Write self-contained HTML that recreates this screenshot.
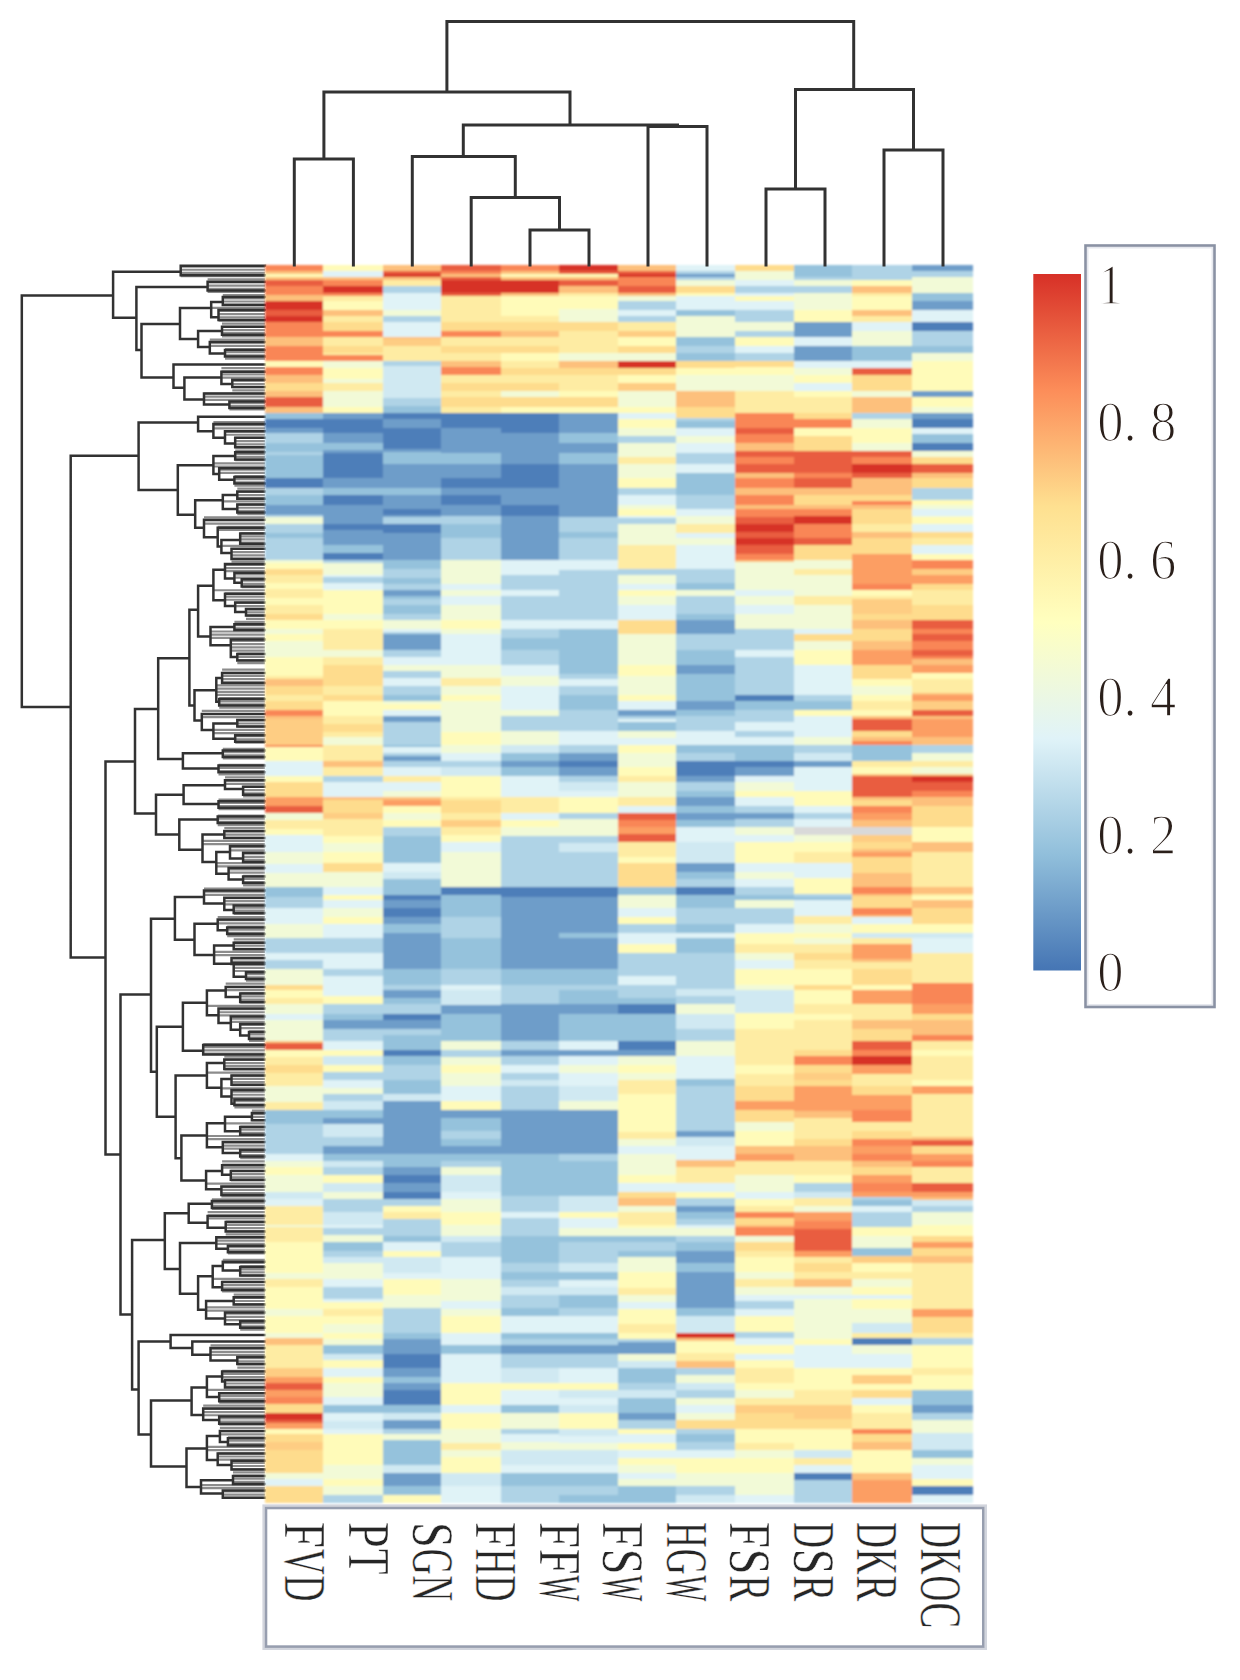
<!DOCTYPE html>
<html><head><meta charset="utf-8"><style>
html,body{margin:0;padding:0;background:#fff;}
svg{display:block;}
text{font-family:"Liberation Serif",serif;}
</style></head><body>
<svg width="1240" height="1680" viewBox="0 0 1240 1680">
<defs>
<linearGradient id="cb" x1="0" y1="0" x2="0" y2="1">
<stop offset="0" stop-color="#D73027"/>
<stop offset="0.1667" stop-color="#FC8D59"/>
<stop offset="0.3333" stop-color="#FEE090"/>
<stop offset="0.5" stop-color="#FFFFBF"/>
<stop offset="0.6667" stop-color="#E0F3F8"/>
<stop offset="0.8333" stop-color="#91BFDB"/>
<stop offset="1" stop-color="#4575B4"/>
</linearGradient>
<filter id="bl" x="-2%" y="-2%" width="104%" height="104%"><feGaussianBlur stdDeviation="0.45"/></filter>
<filter id="bh" x="-2%" y="-1%" width="104%" height="102%"><feGaussianBlur stdDeviation="0.9"/></filter>
</defs>
<rect width="1240" height="1680" fill="#fff"/>
<g filter="url(#bl)">
<path d="M180.7,266.59H265.0M180.7,269.76H265.0M180.7,272.93H265.0M180.7,276.11H265.0M207.6,279.28H265.0M207.6,282.45H265.0M207.6,285.62H265.0M207.6,288.80H265.0M207.6,291.97H265.0M222.8,295.14H265.0M222.8,298.32H265.0M222.8,301.49H265.0M222.8,304.66H265.0M211.2,307.84H265.0M218.5,311.01H265.0M218.5,314.18H265.0M218.5,317.36H265.0M218.5,320.53H265.0M222.0,323.70H265.0M222.0,326.88H265.0M222.0,330.05H265.0M222.0,333.22H265.0M222.0,336.39H265.0M209.8,339.57H265.0M209.8,342.74H265.0M209.8,345.91H265.0M225.0,349.09H265.0M225.0,352.26H265.0M225.0,355.43H265.0M225.0,358.61H265.0M221.4,368.12H265.0M221.4,371.30H265.0M221.4,374.47H265.0M221.4,377.64H265.0M232.3,380.82H265.0M232.3,383.99H265.0M232.3,387.16H265.0M232.3,390.34H265.0M204.0,393.51H265.0M204.0,396.68H265.0M204.0,399.86H265.0M229.4,403.03H265.0M229.4,406.20H265.0M229.4,409.38H265.0M213.4,422.07H265.0M213.4,425.24H265.0M213.4,428.41H265.0M225.0,431.59H265.0M225.0,434.76H265.0M235.2,437.93H265.0M235.2,441.11H265.0M235.2,444.28H265.0M235.2,447.45H265.0M235.2,450.62H265.0M235.2,453.80H265.0M235.2,456.97H265.0M235.2,460.14H265.0M213.4,463.32H265.0M213.4,466.49H265.0M219.2,469.66H265.0M219.2,472.84H265.0M234.4,476.01H265.0M234.4,479.18H265.0M234.4,482.36H265.0M234.4,485.53H265.0M237.3,488.70H265.0M237.3,491.88H265.0M237.3,495.05H265.0M237.3,498.22H265.0M222.8,501.39H265.0M237.3,504.57H265.0M237.3,507.74H265.0M237.3,510.91H265.0M237.3,514.09H265.0M204.0,517.26H265.0M204.0,520.43H265.0M204.0,523.61H265.0M217.7,526.78H265.0M217.7,529.95H265.0M240.2,533.12H265.0M240.2,536.30H265.0M240.2,539.47H265.0M240.2,542.64H265.0M221.4,545.82H265.0M231.5,548.99H265.0M231.5,552.16H265.0M231.5,555.34H265.0M231.5,558.51H265.0M231.5,561.68H265.0M225.0,564.86H265.0M225.0,568.03H265.0M225.0,571.20H265.0M234.4,574.38H265.0M234.4,577.55H265.0M241.7,580.72H265.0M241.7,583.89H265.0M241.7,587.07H265.0M213.4,590.24H265.0M225.0,593.41H265.0M225.0,596.59H265.0M225.0,599.76H265.0M235.2,602.93H265.0M235.2,606.11H265.0M246.0,609.28H265.0M246.0,612.45H265.0M246.0,615.62H265.0M246.0,618.80H265.0M234.4,621.97H265.0M234.4,625.14H265.0M234.4,628.32H265.0M210.5,631.49H265.0M210.5,634.66H265.0M210.5,637.84H265.0M230.8,641.01H265.0M230.8,644.18H265.0M230.8,647.36H265.0M230.8,650.53H265.0M237.3,653.70H265.0M237.3,656.88H265.0M237.3,660.05H265.0M237.3,663.22H265.0M222.1,669.57H265.0M222.1,672.74H265.0M222.1,675.91H265.0M222.1,679.09H265.0M222.1,682.26H265.0M216.3,685.43H265.0M216.3,688.61H265.0M216.3,691.78H265.0M216.3,694.95H265.0M219.2,698.12H265.0M219.2,701.30H265.0M219.2,704.47H265.0M219.2,707.64H265.0M201.8,710.82H265.0M201.8,713.99H265.0M201.8,717.16H265.0M237.3,720.34H265.0M237.3,723.51H265.0M237.3,726.68H265.0M213.4,729.86H265.0M213.4,733.03H265.0M235.2,736.20H265.0M235.2,739.38H265.0M235.2,742.55H265.0M222.8,748.89H265.0M222.8,752.07H265.0M222.8,755.24H265.0M222.8,758.41H265.0M218.5,764.76H265.0M218.5,767.93H265.0M218.5,771.11H265.0M218.5,774.28H265.0M225.0,777.45H265.0M225.0,780.62H265.0M225.0,783.80H265.0M243.1,786.97H265.0M243.1,790.14H265.0M243.1,793.32H265.0M243.1,796.49H265.0M218.5,799.66H265.0M218.5,802.84H265.0M218.5,806.01H265.0M218.5,809.18H265.0M217.7,815.53H265.0M217.7,818.70H265.0M217.7,821.88H265.0M217.7,825.05H265.0M224.3,828.22H265.0M224.3,831.39H265.0M224.3,834.57H265.0M224.3,837.74H265.0M202.5,840.91H265.0M202.5,844.09H265.0M230.0,847.26H265.0M230.0,850.43H265.0M243.1,853.61H265.0M243.1,856.78H265.0M243.1,859.95H265.0M216.3,863.12H265.0M216.3,866.30H265.0M228.6,869.47H265.0M228.6,872.64H265.0M243.1,875.82H265.0M243.1,878.99H265.0M243.1,882.16H265.0M243.1,885.34H265.0M204.0,888.51H265.0M204.0,891.68H265.0M204.0,894.86H265.0M224.3,898.03H265.0M224.3,901.20H265.0M224.3,904.38H265.0M233.7,907.55H265.0M233.7,910.72H265.0M233.7,913.89H265.0M217.7,917.07H265.0M217.7,920.24H265.0M217.7,923.41H265.0M227.2,926.59H265.0M227.2,929.76H265.0M227.2,932.93H265.0M227.2,936.11H265.0M233.7,939.28H265.0M233.7,942.45H265.0M233.7,945.62H265.0M233.7,948.80H265.0M214.1,951.97H265.0M214.1,955.14H265.0M231.5,958.32H265.0M231.5,961.49H265.0M233.7,964.66H265.0M233.7,967.84H265.0M233.7,971.01H265.0M246.0,974.18H265.0M246.0,977.36H265.0M246.0,980.53H265.0M225.7,983.70H265.0M225.7,986.88H265.0M225.7,990.05H265.0M240.2,993.22H265.0M240.2,996.39H265.0M240.2,999.57H265.0M240.2,1002.74H265.0M206.9,1005.91H265.0M218.5,1009.09H265.0M218.5,1012.26H265.0M218.5,1015.43H265.0M230.8,1018.61H265.0M230.8,1021.78H265.0M240.2,1024.95H265.0M240.2,1028.12H265.0M249.0,1031.30H265.0M249.0,1034.47H265.0M249.0,1037.64H265.0M249.0,1040.82H265.0M203.2,1043.99H265.0M203.2,1047.16H265.0M203.2,1050.34H265.0M203.2,1053.51H265.0M224.3,1056.68H265.0M224.3,1059.86H265.0M224.3,1063.03H265.0M224.3,1066.20H265.0M224.3,1069.38H265.0M206.9,1072.55H265.0M231.5,1075.72H265.0M231.5,1078.89H265.0M231.5,1082.07H265.0M231.5,1085.24H265.0M221.4,1088.41H265.0M231.5,1091.59H265.0M231.5,1094.76H265.0M231.5,1097.93H265.0M234.4,1101.11H265.0M234.4,1104.28H265.0M234.4,1107.45H265.0M251.9,1110.62H265.0M251.9,1113.80H265.0M251.9,1116.97H265.0M251.9,1120.14H265.0M225.0,1123.32H265.0M240.2,1126.49H265.0M240.2,1129.66H265.0M240.2,1132.84H265.0M206.9,1136.01H265.0M206.9,1139.18H265.0M222.8,1142.36H265.0M222.8,1145.53H265.0M222.8,1148.70H265.0M240.2,1151.88H265.0M240.2,1155.05H265.0M240.2,1158.22H265.0M222.1,1161.39H265.0M222.1,1164.57H265.0M222.1,1167.74H265.0M230.8,1170.91H265.0M230.8,1174.09H265.0M230.8,1177.26H265.0M230.8,1180.43H265.0M206.1,1183.61H265.0M221.4,1186.78H265.0M221.4,1189.95H265.0M221.4,1193.12H265.0M221.4,1196.30H265.0M211.9,1199.47H265.0M211.9,1202.64H265.0M211.9,1205.82H265.0M211.9,1208.99H265.0M207.6,1212.16H265.0M207.6,1215.34H265.0M207.6,1218.51H265.0M225.7,1221.68H265.0M225.7,1224.86H265.0M225.7,1228.03H265.0M225.7,1231.20H265.0M225.7,1234.38H265.0M216.3,1237.55H265.0M216.3,1240.72H265.0M216.3,1243.89H265.0M227.9,1247.07H265.0M227.9,1250.24H265.0M227.9,1253.41H265.0M222.8,1259.76H265.0M222.8,1262.93H265.0M240.2,1266.11H265.0M240.2,1269.28H265.0M240.2,1272.45H265.0M240.2,1275.62H265.0M212.7,1278.80H265.0M222.1,1281.97H265.0M222.1,1285.14H265.0M222.1,1288.32H265.0M222.1,1291.49H265.0M233.7,1294.66H265.0M233.7,1297.84H265.0M233.7,1301.01H265.0M233.7,1304.18H265.0M206.1,1307.36H265.0M206.1,1310.53H265.0M225.0,1313.70H265.0M225.0,1316.88H265.0M225.0,1320.05H265.0M240.2,1323.22H265.0M240.2,1326.39H265.0M240.2,1329.57H265.0M210.5,1345.43H265.0M210.5,1348.61H265.0M210.5,1351.78H265.0M210.5,1354.95H265.0M237.3,1358.12H265.0M237.3,1361.30H265.0M237.3,1364.47H265.0M237.3,1367.64H265.0M222.1,1370.82H265.0M222.1,1373.99H265.0M222.1,1377.16H265.0M225.0,1380.34H265.0M225.0,1383.51H265.0M225.0,1386.68H265.0M206.9,1389.86H265.0M219.2,1393.03H265.0M219.2,1396.20H265.0M219.2,1399.38H265.0M219.2,1402.55H265.0M203.2,1405.72H265.0M203.2,1408.89H265.0M203.2,1412.07H265.0M203.2,1415.24H265.0M219.2,1418.41H265.0M219.2,1421.59H265.0M219.2,1424.76H265.0M219.9,1427.93H265.0M219.9,1431.11H265.0M219.9,1434.28H265.0M227.9,1437.45H265.0M227.9,1440.62H265.0M227.9,1443.80H265.0M206.9,1446.97H265.0M206.9,1450.14H265.0M217.7,1453.32H265.0M217.7,1456.49H265.0M217.7,1459.66H265.0M231.5,1462.84H265.0M231.5,1466.01H265.0M231.5,1469.18H265.0M233.0,1472.36H265.0M233.0,1475.53H265.0M233.0,1478.70H265.0M233.0,1481.88H265.0M201.0,1485.05H265.0M201.0,1488.22H265.0M222.8,1491.39H265.0M222.8,1494.57H265.0M222.8,1497.74H265.0" fill="none" stroke="#8c8c8c" stroke-width="2.2"/>
<path d="M21.8,295.4H113.1M21.8,707.0H70.7M113.1,271.8H180.7M113.1,317.8H136.4M70.7,455.8H138.6M70.7,957.4H105.5M180.7,265.8H265.0M180.7,275.2H265.0M136.4,286.9H207.6M136.4,350.0H141.5M207.6,281.8H265.0M207.6,290.5H265.0M141.5,323.9H180.0M141.5,377.6H173.5M180.0,307.9H211.2M180.0,339.1H198.1M211.2,302.0H222.8M211.2,317.3H218.5M222.8,297.0H265.0M222.8,305.0H265.0M218.5,310.0H265.0M218.5,320.0H265.0M198.1,331.0H222.0M198.1,347.0H209.8M222.0,326.8H265.0M222.0,334.8H265.0M209.8,342.0H265.0M209.8,353.6H225.0M225.0,350.0H265.0M225.0,356.5H265.0M173.5,364.5H265.0M173.5,387.7H184.4M184.4,377.6H221.4M184.4,399.4H204.0M221.4,371.8H265.0M221.4,384.1H232.3M232.3,379.8H265.0M232.3,387.0H265.0M204.0,393.5H265.0M204.0,404.4H229.4M229.4,401.5H265.0M229.4,408.0H265.0M138.6,422.5H198.1M138.6,490.0H177.8M198.1,416.7H265.0M198.1,431.2H213.4M213.4,424.0H265.0M213.4,437.7H225.0M225.0,431.2H265.0M225.0,443.5H235.2M235.2,437.7H265.0M235.2,447.2H265.0M177.8,465.3H213.4M177.8,514.7H195.2M213.4,455.9H235.2M213.4,474.0H219.2M235.2,452.3H265.0M235.2,459.5H265.0M219.2,468.2H265.0M219.2,479.8H234.4M234.4,477.0H265.0M234.4,483.5H265.0M195.2,500.2H222.8M195.2,527.7H204.0M222.8,495.0H237.3M222.8,508.9H237.3M237.3,491.5H265.0M237.3,498.7H265.0M237.3,504.5H265.0M237.3,512.5H265.0M204.0,519.8H265.0M204.0,537.2H217.7M217.7,527.7H265.0M217.7,546.6H221.4M240.2,533.5H265.0M240.2,543.7H265.0M221.4,540.0H240.2M221.4,553.0H231.5M231.5,548.7H265.0M231.5,558.9H265.0M158.2,658.3H189.4M158.2,759.1H182.9M189.4,609.7H198.1M189.4,705.4H194.5M198.1,585.7H213.4M198.1,636.5H210.5M213.4,569.8H225.0M213.4,600.2H225.0M225.0,564.0H265.0M225.0,578.5H234.4M234.4,572.7H265.0M234.4,582.8H241.7M241.7,579.2H265.0M241.7,586.5H265.0M225.0,593.7H265.0M225.0,606.0H235.2M235.2,602.4H265.0M235.2,611.9H246.0M246.0,609.0H265.0M246.0,615.5H265.0M210.5,627.1H234.4M210.5,645.2H230.8M234.4,624.2H265.0M234.4,630.0H265.0M230.8,639.4H265.0M230.8,656.9H237.3M237.3,654.0H265.0M237.3,660.5H265.0M135.0,709.0H158.2M135.0,813.5H156.0M105.5,761.6H135.0M105.5,1154.5H120.5M182.9,753.3H222.8M182.9,768.5H218.5M222.8,750.4H265.0M222.8,757.0H265.0M218.5,765.6H265.0M218.5,772.2H265.0M194.5,690.2H216.3M194.5,720.6H201.8M216.3,678.0H222.1M216.3,701.8H219.2M222.1,673.0H265.0M222.1,683.0H265.0M219.2,698.9H265.0M219.2,705.4H265.0M201.8,714.0H265.0M201.8,730.0H213.4M213.4,723.5H237.3M213.4,738.8H235.2M237.3,720.0H265.0M237.3,726.5H265.0M235.2,735.2H265.0M235.2,741.7H265.0M156.0,794.7H183.6M156.0,834.5H179.3M183.6,785.2H225.0M183.6,804.1H218.5M225.0,780.2H265.0M225.0,788.9H243.1M243.1,786.7H265.0M243.1,794.7H265.0M218.5,801.2H265.0M218.5,807.7H265.0M179.3,819.4H217.7M179.3,849.8H202.5M217.7,816.5H265.0M217.7,823.0H265.0M224.3,830.9H265.0M224.3,838.1H265.0M202.5,834.5H224.3M202.5,862.1H216.3M216.3,852.0H230.0M216.3,873.7H228.6M230.0,846.1H265.0M230.0,858.5H243.1M243.1,852.7H265.0M243.1,862.1H265.0M228.6,867.9H265.0M228.6,879.5H243.1M243.1,876.6H265.0M243.1,883.1H265.0M151.0,918.7H174.9M151.0,1071.8H156.8M174.9,896.9H204.0M174.9,939.8H194.5M204.0,890.4H265.0M204.0,903.5H224.3M224.3,897.7H265.0M224.3,910.0H233.7M233.7,905.6H265.0M233.7,912.9H265.0M194.5,923.8H217.7M194.5,955.0H214.1M217.7,919.4H265.0M217.7,930.3H227.2M227.2,927.4H265.0M227.2,934.0H265.0M214.1,945.6H233.7M214.1,963.7H231.5M233.7,942.7H265.0M233.7,949.2H265.0M231.5,957.9H265.0M231.5,964.0H265.0M233.7,963.0H265.0M233.7,976.7H246.0M246.0,972.3H265.0M246.0,978.9H265.0M120.5,994.4H151.0M120.5,1314.6H132.1M156.8,1026.8H182.9M156.8,1116.8H175.6M182.9,1002.8H206.9M182.9,1050.7H203.2M206.9,990.5H225.7M206.9,1015.2H218.5M225.7,986.9H265.0M225.7,997.0H240.2M240.2,993.4H265.0M240.2,1002.1H265.0M218.5,1008.6H265.0M218.5,1023.1H230.8M230.8,1016.6H265.0M230.8,1029.7H240.2M240.2,1023.9H265.0M240.2,1035.5H249.0M249.0,1031.9H265.0M249.0,1039.1H265.0M203.2,1044.9H265.0M203.2,1054.4H265.0M175.6,1075.4H206.9M175.6,1158.2H181.4M206.9,1063.0H224.3M206.9,1087.7H221.4M224.3,1059.4H265.0M224.3,1068.9H265.0M221.4,1079.0H231.5M221.4,1096.5H231.5M231.5,1075.4H265.0M231.5,1084.8H265.0M231.5,1089.9H265.0M231.5,1103.7H234.4M234.4,1099.4H265.0M234.4,1105.2H265.0M181.4,1135.6H206.9M181.4,1180.6H206.1M206.9,1123.2H225.0M206.9,1147.2H222.8M225.0,1116.7H251.9M225.0,1131.2H240.2M251.9,1113.0H265.0M251.9,1120.3H265.0M240.2,1126.9H265.0M240.2,1134.8H265.0M222.8,1142.1H265.0M222.8,1153.0H240.2M240.2,1150.1H265.0M240.2,1156.6H265.0M206.1,1171.1H222.1M206.1,1189.3H221.4M222.1,1165.3H265.0M222.1,1174.8H230.8M230.8,1171.1H265.0M230.8,1179.8H265.0M221.4,1186.4H265.0M221.4,1195.1H265.0M164.8,1213.2H188.7M164.8,1269.0H180.0M132.1,1240.0H164.8M132.1,1389.6H138.6M188.7,1203.8H211.9M188.7,1222.7H207.6M211.9,1200.9H265.0M211.9,1208.1H265.0M207.6,1216.1H265.0M207.6,1227.7H225.7M225.7,1221.9H265.0M225.7,1231.4H265.0M180.0,1243.0H216.3M180.0,1293.7H198.1M216.3,1237.2H265.0M216.3,1248.8H227.9M227.9,1245.8H265.0M227.9,1252.3H265.0M198.1,1276.3H212.7M198.1,1309.7H206.1M212.7,1266.1H222.8M212.7,1287.2H222.1M222.8,1261.8H265.0M222.8,1270.5H240.2M240.2,1266.9H265.0M240.2,1275.6H265.0M222.1,1282.0H265.0M222.1,1290.0H265.0M206.1,1301.0H233.7M206.1,1318.4H225.0M233.7,1297.3H265.0M233.7,1304.6H265.0M225.0,1312.6H265.0M225.0,1324.2H240.2M240.2,1321.3H265.0M240.2,1327.8H265.0M138.6,1341.6H170.6M138.6,1434.4H151.0M170.6,1335.1H265.0M170.6,1348.1H192.3M192.3,1341.6H265.0M192.3,1354.7H210.5M210.5,1348.1H265.0M210.5,1360.5H237.3M237.3,1356.9H265.0M237.3,1364.1H265.0M151.0,1400.5H191.6M151.0,1466.5H186.5M191.6,1387.4H206.9M191.6,1415.0H203.2M206.9,1376.4H222.1M206.9,1396.9H219.2M222.1,1371.5H265.0M222.1,1381.6H225.0M225.0,1380.0H265.0M225.0,1387.4H265.0M219.2,1393.2H265.0M219.2,1401.2H265.0M203.2,1408.5H265.0M203.2,1420.1H219.2M219.2,1416.5H265.0M219.2,1423.7H265.0M186.5,1448.4H206.9M186.5,1486.9H201.0M206.9,1436.0H219.9M206.9,1460.0H217.7M219.9,1431.0H265.0M219.9,1441.9H227.9M227.9,1438.2H265.0M227.9,1445.5H265.0M217.7,1453.5H265.0M217.7,1465.1H231.5M231.5,1460.7H265.0M231.5,1469.4H265.0M201.0,1480.3H233.0M201.0,1493.4H222.8M233.0,1476.0H265.0M233.0,1484.0H265.0M222.8,1490.5H265.0M222.8,1497.7H265.0M21.8,295.4V707.0M113.1,271.8V317.8M70.7,455.8V957.4M180.7,265.8V275.2M136.4,286.9V350.0M207.6,281.8V290.5M141.5,323.9V377.6M180.0,307.9V339.1M211.2,302.0V317.3M222.8,297.0V305.0M218.5,310.0V320.0M198.1,331.0V347.0M222.0,326.8V334.8M209.8,342.0V353.6M225.0,350.0V356.5M173.5,364.5V387.7M184.4,377.6V399.4M221.4,371.8V384.1M232.3,379.8V387.0M204.0,393.5V404.4M229.4,401.5V408.0M138.6,422.5V490.0M198.1,416.7V431.2M213.4,424.0V437.7M225.0,431.2V443.5M235.2,437.7V447.2M177.8,465.3V514.7M213.4,455.9V474.0M235.2,452.3V459.5M219.2,468.2V479.8M234.4,477.0V483.5M195.2,500.2V527.7M222.8,495.0V508.9M237.3,491.5V498.7M237.3,504.5V512.5M204.0,519.8V537.2M217.7,527.7V546.6M240.2,533.5V543.7M221.4,540.0V553.0M231.5,548.7V558.9M158.2,658.3V759.1M189.4,609.7V705.4M198.1,585.7V636.5M213.4,569.8V600.2M225.0,564.0V578.5M234.4,572.7V582.8M241.7,579.2V586.5M225.0,593.7V606.0M235.2,602.4V611.9M246.0,609.0V615.5M210.5,627.1V645.2M234.4,624.2V630.0M230.8,639.4V656.9M237.3,654.0V660.5M135.0,709.0V813.5M105.5,761.6V1154.5M182.9,753.3V768.5M222.8,750.4V757.0M218.5,765.6V772.2M194.5,690.2V720.6M216.3,678.0V701.8M222.1,673.0V683.0M219.2,698.9V705.4M201.8,714.0V730.0M213.4,723.5V738.8M237.3,720.0V726.5M235.2,735.2V741.7M156.0,794.7V834.5M183.6,785.2V804.1M225.0,780.2V788.9M243.1,786.7V794.7M218.5,801.2V807.7M179.3,819.4V849.8M217.7,816.5V823.0M224.3,830.9V838.1M202.5,834.5V862.1M216.3,852.0V873.7M230.0,846.1V858.5M243.1,852.7V862.1M228.6,867.9V879.5M243.1,876.6V883.1M151.0,918.7V1071.8M174.9,896.9V939.8M204.0,890.4V903.5M224.3,897.7V910.0M233.7,905.6V912.9M194.5,923.8V955.0M217.7,919.4V930.3M227.2,927.4V934.0M214.1,945.6V963.7M233.7,942.7V949.2M231.5,957.9V964.0M233.7,963.0V976.7M246.0,972.3V978.9M120.5,994.4V1314.6M156.8,1026.8V1116.8M182.9,1002.8V1050.7M206.9,990.5V1015.2M225.7,986.9V997.0M240.2,993.4V1002.1M218.5,1008.6V1023.1M230.8,1016.6V1029.7M240.2,1023.9V1035.5M249.0,1031.9V1039.1M203.2,1044.9V1054.4M175.6,1075.4V1158.2M206.9,1063.0V1087.7M224.3,1059.4V1068.9M221.4,1079.0V1096.5M231.5,1075.4V1084.8M231.5,1089.9V1103.7M234.4,1099.4V1105.2M181.4,1135.6V1180.6M206.9,1123.2V1147.2M225.0,1116.7V1131.2M251.9,1113.0V1120.3M240.2,1126.9V1134.8M222.8,1142.1V1153.0M240.2,1150.1V1156.6M206.1,1171.1V1189.3M222.1,1165.3V1174.8M230.8,1171.1V1179.8M221.4,1186.4V1195.1M164.8,1213.2V1269.0M132.1,1240.0V1389.6M188.7,1203.8V1222.7M211.9,1200.9V1208.1M207.6,1216.1V1227.7M225.7,1221.9V1231.4M180.0,1243.0V1293.7M216.3,1237.2V1248.8M227.9,1245.8V1252.3M198.1,1276.3V1309.7M212.7,1266.1V1287.2M222.8,1261.8V1270.5M240.2,1266.9V1275.6M222.1,1282.0V1290.0M206.1,1301.0V1318.4M233.7,1297.3V1304.6M225.0,1312.6V1324.2M240.2,1321.3V1327.8M138.6,1341.6V1434.4M170.6,1335.1V1348.1M192.3,1341.6V1354.7M210.5,1348.1V1360.5M237.3,1356.9V1364.1M151.0,1400.5V1466.5M191.6,1387.4V1415.0M206.9,1376.4V1396.9M222.1,1371.5V1381.6M225.0,1380.0V1387.4M219.2,1393.2V1401.2M203.2,1408.5V1420.1M219.2,1416.5V1423.7M186.5,1448.4V1486.9M206.9,1436.0V1460.0M219.9,1431.0V1441.9M227.9,1438.2V1445.5M217.7,1453.5V1465.1M231.5,1460.7V1469.4M201.0,1480.3V1493.4M233.0,1476.0V1484.0M222.8,1490.5V1497.7" fill="none" stroke="#333333" stroke-width="2.5" stroke-linecap="square"/>
</g>
<g filter="url(#bh)"><g shape-rendering="crispEdges">
<rect x="265.2" y="265.0" width="58.4" height="6.0" fill="#f98656"/>
<rect x="265.2" y="270.7" width="58.4" height="3.2" fill="#fdc07b"/>
<rect x="265.2" y="273.6" width="58.4" height="3.5" fill="#fffbb9"/>
<rect x="265.2" y="276.8" width="58.4" height="3.3" fill="#fdc07b"/>
<rect x="265.2" y="279.8" width="58.4" height="6.0" fill="#e95d3f"/>
<rect x="265.2" y="285.6" width="58.4" height="9.2" fill="#f98656"/>
<rect x="265.2" y="294.5" width="58.4" height="7.0" fill="#fdc07b"/>
<rect x="265.2" y="301.2" width="58.4" height="8.9" fill="#d73027"/>
<rect x="265.2" y="309.7" width="58.4" height="7.0" fill="#e95d3f"/>
<rect x="265.2" y="316.4" width="58.4" height="6.0" fill="#d73027"/>
<rect x="265.2" y="322.1" width="58.4" height="15.5" fill="#f98656"/>
<rect x="265.2" y="337.3" width="58.4" height="8.9" fill="#fdc07b"/>
<rect x="265.2" y="345.9" width="58.4" height="15.5" fill="#f98656"/>
<rect x="265.2" y="361.1" width="58.4" height="6.0" fill="#fffbb9"/>
<rect x="265.2" y="366.8" width="58.4" height="8.9" fill="#f98656"/>
<rect x="265.2" y="375.4" width="58.4" height="7.9" fill="#fdc07b"/>
<rect x="265.2" y="383.0" width="58.4" height="7.9" fill="#fedc8d"/>
<rect x="265.2" y="390.6" width="58.4" height="7.0" fill="#fdc07b"/>
<rect x="265.2" y="397.3" width="58.4" height="9.8" fill="#e95d3f"/>
<rect x="265.2" y="406.8" width="58.4" height="6.0" fill="#fdc07b"/>
<rect x="265.2" y="412.5" width="58.4" height="7.0" fill="#95c2dc"/>
<rect x="265.2" y="419.2" width="58.4" height="8.9" fill="#4e7eb9"/>
<rect x="265.2" y="427.7" width="58.4" height="6.0" fill="#6e9dc9"/>
<rect x="265.2" y="433.4" width="58.4" height="9.8" fill="#afd3e6"/>
<rect x="265.2" y="443.0" width="58.4" height="8.9" fill="#95c2dc"/>
<rect x="265.2" y="451.5" width="58.4" height="4.1" fill="#afd3e6"/>
<rect x="265.2" y="455.3" width="58.4" height="23.1" fill="#95c2dc"/>
<rect x="265.2" y="478.2" width="58.4" height="9.8" fill="#4e7eb9"/>
<rect x="265.2" y="487.7" width="58.4" height="7.9" fill="#afd3e6"/>
<rect x="265.2" y="495.3" width="58.4" height="10.0" fill="#95c2dc"/>
<rect x="323.3" y="265.0" width="60.4" height="6.0" fill="#fffbb9"/>
<rect x="323.3" y="270.7" width="60.4" height="7.0" fill="#e0f3f7"/>
<rect x="323.3" y="277.4" width="60.4" height="3.2" fill="#fdc07b"/>
<rect x="323.3" y="280.2" width="60.4" height="5.6" fill="#f98656"/>
<rect x="323.3" y="285.6" width="60.4" height="7.3" fill="#d73027"/>
<rect x="323.3" y="292.6" width="60.4" height="3.2" fill="#f98656"/>
<rect x="323.3" y="295.5" width="60.4" height="6.0" fill="#feeca3"/>
<rect x="323.3" y="301.2" width="60.4" height="8.9" fill="#fffbb9"/>
<rect x="323.3" y="309.7" width="60.4" height="7.0" fill="#fdc07b"/>
<rect x="323.3" y="316.4" width="60.4" height="6.0" fill="#feeca3"/>
<rect x="323.3" y="322.1" width="60.4" height="8.9" fill="#fedc8d"/>
<rect x="323.3" y="330.7" width="60.4" height="7.0" fill="#f98656"/>
<rect x="323.3" y="337.3" width="60.4" height="8.9" fill="#feeca3"/>
<rect x="323.3" y="345.9" width="60.4" height="7.0" fill="#fedc8d"/>
<rect x="323.3" y="352.5" width="60.4" height="3.2" fill="#feeca3"/>
<rect x="323.3" y="355.4" width="60.4" height="6.0" fill="#f98656"/>
<rect x="323.3" y="361.1" width="60.4" height="7.0" fill="#f2fad7"/>
<rect x="323.3" y="367.8" width="60.4" height="11.7" fill="#fffbb9"/>
<rect x="323.3" y="379.2" width="60.4" height="4.1" fill="#f2fad7"/>
<rect x="323.3" y="383.0" width="60.4" height="7.9" fill="#feeca3"/>
<rect x="323.3" y="390.6" width="60.4" height="16.5" fill="#f2fad7"/>
<rect x="323.3" y="406.8" width="60.4" height="6.0" fill="#fffbb9"/>
<rect x="323.3" y="412.5" width="60.4" height="7.0" fill="#6e9dc9"/>
<rect x="323.3" y="419.2" width="60.4" height="14.6" fill="#4e7eb9"/>
<rect x="323.3" y="433.4" width="60.4" height="9.8" fill="#6e9dc9"/>
<rect x="323.3" y="443.0" width="60.4" height="7.0" fill="#95c2dc"/>
<rect x="323.3" y="449.6" width="60.4" height="3.2" fill="#6e9dc9"/>
<rect x="323.3" y="452.5" width="60.4" height="26.0" fill="#4e7eb9"/>
<rect x="323.3" y="478.2" width="60.4" height="9.8" fill="#6e9dc9"/>
<rect x="323.3" y="487.7" width="60.4" height="7.9" fill="#95c2dc"/>
<rect x="323.3" y="495.3" width="60.4" height="10.0" fill="#4e7eb9"/>
<rect x="383.4" y="265.0" width="57.5" height="6.0" fill="#fdc07b"/>
<rect x="383.4" y="270.7" width="57.5" height="3.2" fill="#e95d3f"/>
<rect x="383.4" y="273.6" width="57.5" height="3.5" fill="#d73027"/>
<rect x="383.4" y="276.8" width="57.5" height="3.3" fill="#fdc07b"/>
<rect x="383.4" y="279.8" width="57.5" height="6.4" fill="#feeca3"/>
<rect x="383.4" y="285.9" width="57.5" height="7.0" fill="#afd3e6"/>
<rect x="383.4" y="292.6" width="57.5" height="2.2" fill="#e0f3f7"/>
<rect x="383.4" y="294.5" width="57.5" height="15.5" fill="#e0f3f7"/>
<rect x="383.4" y="309.7" width="57.5" height="7.0" fill="#f2fad7"/>
<rect x="383.4" y="316.4" width="57.5" height="6.0" fill="#afd3e6"/>
<rect x="383.4" y="322.1" width="57.5" height="15.5" fill="#e0f3f7"/>
<rect x="383.4" y="337.3" width="57.5" height="2.2" fill="#fdc07b"/>
<rect x="383.4" y="339.2" width="57.5" height="7.0" fill="#fecd83"/>
<rect x="383.4" y="345.9" width="57.5" height="15.5" fill="#feeca3"/>
<rect x="383.4" y="361.1" width="57.5" height="5.1" fill="#afd3e6"/>
<rect x="383.4" y="365.9" width="57.5" height="32.7" fill="#d0e9f2"/>
<rect x="383.4" y="398.2" width="57.5" height="7.9" fill="#afd3e6"/>
<rect x="383.4" y="405.8" width="57.5" height="7.0" fill="#95c2dc"/>
<rect x="383.4" y="412.5" width="57.5" height="7.0" fill="#4e7eb9"/>
<rect x="383.4" y="419.2" width="57.5" height="8.9" fill="#6e9dc9"/>
<rect x="383.4" y="427.7" width="57.5" height="21.2" fill="#4e7eb9"/>
<rect x="383.4" y="448.7" width="57.5" height="3.2" fill="#6e9dc9"/>
<rect x="383.4" y="451.5" width="57.5" height="12.7" fill="#95c2dc"/>
<rect x="383.4" y="463.9" width="57.5" height="8.9" fill="#6e9dc9"/>
<rect x="383.4" y="472.5" width="57.5" height="15.5" fill="#6e9dc9"/>
<rect x="383.4" y="487.7" width="57.5" height="7.9" fill="#95c2dc"/>
<rect x="383.4" y="495.3" width="57.5" height="10.0" fill="#6e9dc9"/>
<rect x="440.6" y="265.0" width="60.7" height="6.0" fill="#e95d3f"/>
<rect x="440.6" y="270.7" width="60.7" height="3.2" fill="#f98656"/>
<rect x="440.6" y="273.6" width="60.7" height="3.5" fill="#fdc07b"/>
<rect x="440.6" y="276.8" width="60.7" height="3.7" fill="#e95d3f"/>
<rect x="440.6" y="280.2" width="60.7" height="12.7" fill="#d73027"/>
<rect x="440.6" y="292.6" width="60.7" height="3.2" fill="#e95d3f"/>
<rect x="440.6" y="295.5" width="60.7" height="26.9" fill="#feeca3"/>
<rect x="440.6" y="322.1" width="60.7" height="8.9" fill="#fedc8d"/>
<rect x="440.6" y="330.7" width="60.7" height="7.0" fill="#f98656"/>
<rect x="440.6" y="337.3" width="60.7" height="8.9" fill="#feeca3"/>
<rect x="440.6" y="345.9" width="60.7" height="7.0" fill="#fedc8d"/>
<rect x="440.6" y="352.5" width="60.7" height="8.9" fill="#feeca3"/>
<rect x="440.6" y="361.1" width="60.7" height="6.0" fill="#fdc07b"/>
<rect x="440.6" y="366.8" width="60.7" height="8.9" fill="#f98656"/>
<rect x="440.6" y="375.4" width="60.7" height="7.9" fill="#feeca3"/>
<rect x="440.6" y="383.0" width="60.7" height="7.9" fill="#fedc8d"/>
<rect x="440.6" y="390.6" width="60.7" height="7.0" fill="#feeca3"/>
<rect x="440.6" y="397.3" width="60.7" height="9.8" fill="#fedc8d"/>
<rect x="440.6" y="406.8" width="60.7" height="6.0" fill="#feeca3"/>
<rect x="440.6" y="412.5" width="60.7" height="15.5" fill="#4e7eb9"/>
<rect x="440.6" y="427.7" width="60.7" height="25.0" fill="#6e9dc9"/>
<rect x="440.6" y="452.5" width="60.7" height="11.7" fill="#95c2dc"/>
<rect x="440.6" y="463.9" width="60.7" height="14.6" fill="#6e9dc9"/>
<rect x="440.6" y="478.2" width="60.7" height="9.8" fill="#4e7eb9"/>
<rect x="440.6" y="487.7" width="60.7" height="7.9" fill="#6e9dc9"/>
<rect x="440.6" y="495.3" width="60.7" height="10.0" fill="#4e7eb9"/>
<rect x="501.0" y="265.0" width="58.4" height="6.0" fill="#f98656"/>
<rect x="501.0" y="270.7" width="58.4" height="3.2" fill="#fdc07b"/>
<rect x="501.0" y="273.6" width="58.4" height="3.5" fill="#fffbb9"/>
<rect x="501.0" y="276.8" width="58.4" height="3.7" fill="#fdc07b"/>
<rect x="501.0" y="280.2" width="58.4" height="12.7" fill="#d73027"/>
<rect x="501.0" y="292.6" width="58.4" height="3.2" fill="#fdc07b"/>
<rect x="501.0" y="295.5" width="58.4" height="21.2" fill="#fffbb9"/>
<rect x="501.0" y="316.4" width="58.4" height="6.0" fill="#feeca3"/>
<rect x="501.0" y="322.1" width="58.4" height="8.9" fill="#fedc8d"/>
<rect x="501.0" y="330.7" width="58.4" height="7.0" fill="#fdc07b"/>
<rect x="501.0" y="337.3" width="58.4" height="8.9" fill="#feeca3"/>
<rect x="501.0" y="345.9" width="58.4" height="7.0" fill="#fedc8d"/>
<rect x="501.0" y="352.5" width="58.4" height="8.9" fill="#fffbb9"/>
<rect x="501.0" y="361.1" width="58.4" height="7.0" fill="#feeca3"/>
<rect x="501.0" y="367.8" width="58.4" height="7.9" fill="#fedc8d"/>
<rect x="501.0" y="375.4" width="58.4" height="7.9" fill="#feeca3"/>
<rect x="501.0" y="383.0" width="58.4" height="7.9" fill="#fedc8d"/>
<rect x="501.0" y="390.6" width="58.4" height="7.0" fill="#f2fad7"/>
<rect x="501.0" y="397.3" width="58.4" height="9.8" fill="#fedc8d"/>
<rect x="501.0" y="406.8" width="58.4" height="6.0" fill="#fffbb9"/>
<rect x="501.0" y="412.5" width="58.4" height="21.2" fill="#4e7eb9"/>
<rect x="501.0" y="433.4" width="58.4" height="30.8" fill="#6e9dc9"/>
<rect x="501.0" y="463.9" width="58.4" height="24.1" fill="#4e7eb9"/>
<rect x="501.0" y="487.7" width="58.4" height="17.6" fill="#6e9dc9"/>
<rect x="559.1" y="265.0" width="58.8" height="6.0" fill="#d73027"/>
<rect x="559.1" y="270.7" width="58.8" height="3.2" fill="#e95d3f"/>
<rect x="559.1" y="273.6" width="58.8" height="3.5" fill="#fffbb9"/>
<rect x="559.1" y="276.8" width="58.8" height="3.7" fill="#fdc07b"/>
<rect x="559.1" y="280.2" width="58.8" height="6.0" fill="#e95d3f"/>
<rect x="559.1" y="285.9" width="58.8" height="7.0" fill="#fdc07b"/>
<rect x="559.1" y="292.6" width="58.8" height="3.2" fill="#feeca3"/>
<rect x="559.1" y="295.5" width="58.8" height="13.6" fill="#fffbb9"/>
<rect x="559.1" y="308.8" width="58.8" height="7.9" fill="#f2fad7"/>
<rect x="559.1" y="316.4" width="58.8" height="6.0" fill="#f2fad7"/>
<rect x="559.1" y="322.1" width="58.8" height="8.9" fill="#fedc8d"/>
<rect x="559.1" y="330.7" width="58.8" height="7.0" fill="#feeca3"/>
<rect x="559.1" y="337.3" width="58.8" height="15.5" fill="#feeca3"/>
<rect x="559.1" y="352.5" width="58.8" height="8.9" fill="#f2fad7"/>
<rect x="559.1" y="361.1" width="58.8" height="7.0" fill="#fdc07b"/>
<rect x="559.1" y="367.8" width="58.8" height="7.9" fill="#fedc8d"/>
<rect x="559.1" y="375.4" width="58.8" height="7.9" fill="#feeca3"/>
<rect x="559.1" y="383.0" width="58.8" height="7.9" fill="#feeca3"/>
<rect x="559.1" y="390.6" width="58.8" height="7.0" fill="#fffbb9"/>
<rect x="559.1" y="397.3" width="58.8" height="9.8" fill="#fedc8d"/>
<rect x="559.1" y="406.8" width="58.8" height="6.0" fill="#fffbb9"/>
<rect x="559.1" y="412.5" width="58.8" height="21.2" fill="#6e9dc9"/>
<rect x="559.1" y="433.4" width="58.8" height="9.8" fill="#95c2dc"/>
<rect x="559.1" y="443.0" width="58.8" height="9.8" fill="#6e9dc9"/>
<rect x="559.1" y="452.5" width="58.8" height="11.7" fill="#95c2dc"/>
<rect x="559.1" y="463.9" width="58.8" height="8.9" fill="#6e9dc9"/>
<rect x="559.1" y="472.5" width="58.8" height="15.5" fill="#6e9dc9"/>
<rect x="559.1" y="487.7" width="58.8" height="17.6" fill="#6e9dc9"/>
<rect x="617.6" y="265.0" width="58.9" height="6.0" fill="#fdc07b"/>
<rect x="617.6" y="270.7" width="58.9" height="3.2" fill="#e95d3f"/>
<rect x="617.6" y="273.6" width="58.9" height="3.5" fill="#d73027"/>
<rect x="617.6" y="276.8" width="58.9" height="9.4" fill="#f98656"/>
<rect x="617.6" y="285.9" width="58.9" height="7.0" fill="#e95d3f"/>
<rect x="617.6" y="292.6" width="58.9" height="3.2" fill="#fdc07b"/>
<rect x="617.6" y="295.5" width="58.9" height="6.0" fill="#f2fad7"/>
<rect x="617.6" y="301.2" width="58.9" height="8.9" fill="#afd3e6"/>
<rect x="617.6" y="309.7" width="58.9" height="7.0" fill="#e0f3f7"/>
<rect x="617.6" y="316.4" width="58.9" height="6.0" fill="#afd3e6"/>
<rect x="617.6" y="322.1" width="58.9" height="8.9" fill="#feeca3"/>
<rect x="617.6" y="330.7" width="58.9" height="7.0" fill="#fecd83"/>
<rect x="617.6" y="337.3" width="58.9" height="8.9" fill="#fffbb9"/>
<rect x="617.6" y="345.9" width="58.9" height="7.0" fill="#fedc8d"/>
<rect x="617.6" y="352.5" width="58.9" height="8.9" fill="#f2fad7"/>
<rect x="617.6" y="361.1" width="58.9" height="7.0" fill="#d73027"/>
<rect x="617.6" y="367.8" width="58.9" height="7.9" fill="#fedc8d"/>
<rect x="617.6" y="375.4" width="58.9" height="7.9" fill="#fffbb9"/>
<rect x="617.6" y="383.0" width="58.9" height="7.9" fill="#fecd83"/>
<rect x="617.6" y="390.6" width="58.9" height="16.5" fill="#f2fad7"/>
<rect x="617.6" y="406.8" width="58.9" height="6.0" fill="#fffbb9"/>
<rect x="617.6" y="412.5" width="58.9" height="7.0" fill="#e0f3f7"/>
<rect x="617.6" y="419.2" width="58.9" height="8.9" fill="#fffbb9"/>
<rect x="617.6" y="427.7" width="58.9" height="8.9" fill="#f2fad7"/>
<rect x="617.6" y="436.3" width="58.9" height="7.0" fill="#afd3e6"/>
<rect x="617.6" y="443.0" width="58.9" height="14.6" fill="#f2fad7"/>
<rect x="617.6" y="457.2" width="58.9" height="7.0" fill="#feeca3"/>
<rect x="617.6" y="463.9" width="58.9" height="14.6" fill="#f2fad7"/>
<rect x="617.6" y="478.2" width="58.9" height="9.8" fill="#fffbb9"/>
<rect x="617.6" y="487.7" width="58.9" height="7.9" fill="#afd3e6"/>
<rect x="617.6" y="495.3" width="58.9" height="10.0" fill="#e0f3f7"/>
<rect x="676.2" y="265.0" width="58.8" height="6.0" fill="#e0f3f7"/>
<rect x="676.2" y="270.7" width="58.8" height="3.2" fill="#afd3e6"/>
<rect x="676.2" y="273.6" width="58.8" height="3.5" fill="#6e9dc9"/>
<rect x="676.2" y="276.8" width="58.8" height="3.7" fill="#afd3e6"/>
<rect x="676.2" y="280.2" width="58.8" height="6.0" fill="#f2fad7"/>
<rect x="676.2" y="285.9" width="58.8" height="7.0" fill="#fedc8d"/>
<rect x="676.2" y="292.6" width="58.8" height="3.2" fill="#fffbb9"/>
<rect x="676.2" y="295.5" width="58.8" height="6.0" fill="#e0f3f7"/>
<rect x="676.2" y="301.2" width="58.8" height="8.9" fill="#e0f3f7"/>
<rect x="676.2" y="309.7" width="58.8" height="7.0" fill="#95c2dc"/>
<rect x="676.2" y="316.4" width="58.8" height="6.0" fill="#f2fad7"/>
<rect x="676.2" y="322.1" width="58.8" height="15.5" fill="#f2fad7"/>
<rect x="676.2" y="337.3" width="58.8" height="8.9" fill="#95c2dc"/>
<rect x="676.2" y="345.9" width="58.8" height="7.0" fill="#afd3e6"/>
<rect x="676.2" y="352.5" width="58.8" height="8.9" fill="#95c2dc"/>
<rect x="676.2" y="361.1" width="58.8" height="7.0" fill="#fedc8d"/>
<rect x="676.2" y="367.8" width="58.8" height="7.9" fill="#fffbb9"/>
<rect x="676.2" y="375.4" width="58.8" height="7.9" fill="#f2fad7"/>
<rect x="676.2" y="383.0" width="58.8" height="7.9" fill="#f2fad7"/>
<rect x="676.2" y="390.6" width="58.8" height="16.5" fill="#fdc07b"/>
<rect x="676.2" y="406.8" width="58.8" height="11.7" fill="#fedc8d"/>
<rect x="676.2" y="418.2" width="58.8" height="3.2" fill="#afd3e6"/>
<rect x="676.2" y="421.1" width="58.8" height="7.0" fill="#95c2dc"/>
<rect x="676.2" y="427.7" width="58.8" height="8.9" fill="#e0f3f7"/>
<rect x="676.2" y="436.3" width="58.8" height="7.0" fill="#f2fad7"/>
<rect x="676.2" y="443.0" width="58.8" height="9.8" fill="#e0f3f7"/>
<rect x="676.2" y="452.5" width="58.8" height="11.7" fill="#afd3e6"/>
<rect x="676.2" y="463.9" width="58.8" height="8.9" fill="#e0f3f7"/>
<rect x="676.2" y="472.5" width="58.8" height="15.5" fill="#95c2dc"/>
<rect x="676.2" y="487.7" width="58.8" height="7.9" fill="#95c2dc"/>
<rect x="676.2" y="495.3" width="58.8" height="10.0" fill="#afd3e6"/>
<rect x="734.7" y="265.0" width="59.1" height="6.0" fill="#fedc8d"/>
<rect x="734.7" y="270.7" width="59.1" height="9.8" fill="#f2fad7"/>
<rect x="734.7" y="280.2" width="59.1" height="6.0" fill="#e0f3f7"/>
<rect x="734.7" y="285.9" width="59.1" height="7.0" fill="#afd3e6"/>
<rect x="734.7" y="292.6" width="59.1" height="3.2" fill="#e0f3f7"/>
<rect x="734.7" y="295.5" width="59.1" height="6.0" fill="#fffbb9"/>
<rect x="734.7" y="301.2" width="59.1" height="8.9" fill="#e0f3f7"/>
<rect x="734.7" y="309.7" width="59.1" height="12.7" fill="#afd3e6"/>
<rect x="734.7" y="322.1" width="59.1" height="8.9" fill="#f2fad7"/>
<rect x="734.7" y="330.7" width="59.1" height="7.0" fill="#afd3e6"/>
<rect x="734.7" y="337.3" width="59.1" height="8.9" fill="#fffbb9"/>
<rect x="734.7" y="345.9" width="59.1" height="7.0" fill="#e0f3f7"/>
<rect x="734.7" y="352.5" width="59.1" height="8.9" fill="#afd3e6"/>
<rect x="734.7" y="361.1" width="59.1" height="6.0" fill="#fedc8d"/>
<rect x="734.7" y="366.8" width="59.1" height="8.9" fill="#fffbb9"/>
<rect x="734.7" y="375.4" width="59.1" height="7.9" fill="#f2fad7"/>
<rect x="734.7" y="383.0" width="59.1" height="7.9" fill="#f2fad7"/>
<rect x="734.7" y="390.6" width="59.1" height="22.2" fill="#feeca3"/>
<rect x="734.7" y="412.5" width="59.1" height="15.5" fill="#f98656"/>
<rect x="734.7" y="427.7" width="59.1" height="7.0" fill="#e95d3f"/>
<rect x="734.7" y="434.4" width="59.1" height="8.9" fill="#f98656"/>
<rect x="734.7" y="443.0" width="59.1" height="7.9" fill="#fdc07b"/>
<rect x="734.7" y="450.6" width="59.1" height="7.0" fill="#e95d3f"/>
<rect x="734.7" y="457.2" width="59.1" height="7.0" fill="#f98656"/>
<rect x="734.7" y="463.9" width="59.1" height="8.9" fill="#e95d3f"/>
<rect x="734.7" y="472.5" width="59.1" height="6.0" fill="#fdc07b"/>
<rect x="734.7" y="478.2" width="59.1" height="9.8" fill="#f98656"/>
<rect x="734.7" y="487.7" width="59.1" height="7.9" fill="#fdc07b"/>
<rect x="734.7" y="495.3" width="59.1" height="10.0" fill="#f98656"/>
<rect x="793.5" y="265.0" width="59.1" height="12.7" fill="#95c2dc"/>
<rect x="793.5" y="277.4" width="59.1" height="3.2" fill="#afd3e6"/>
<rect x="793.5" y="280.2" width="59.1" height="6.0" fill="#f2fad7"/>
<rect x="793.5" y="285.9" width="59.1" height="7.0" fill="#afd3e6"/>
<rect x="793.5" y="292.6" width="59.1" height="17.4" fill="#f2fad7"/>
<rect x="793.5" y="309.7" width="59.1" height="12.7" fill="#fffbb9"/>
<rect x="793.5" y="322.1" width="59.1" height="15.5" fill="#6e9dc9"/>
<rect x="793.5" y="337.3" width="59.1" height="8.9" fill="#e0f3f7"/>
<rect x="793.5" y="345.9" width="59.1" height="15.5" fill="#6e9dc9"/>
<rect x="793.5" y="361.1" width="59.1" height="7.0" fill="#e0f3f7"/>
<rect x="793.5" y="367.8" width="59.1" height="7.9" fill="#f2fad7"/>
<rect x="793.5" y="375.4" width="59.1" height="7.9" fill="#fffbb9"/>
<rect x="793.5" y="383.0" width="59.1" height="7.9" fill="#e0f3f7"/>
<rect x="793.5" y="390.6" width="59.1" height="7.0" fill="#fffbb9"/>
<rect x="793.5" y="397.3" width="59.1" height="15.5" fill="#feeca3"/>
<rect x="793.5" y="412.5" width="59.1" height="7.0" fill="#fedc8d"/>
<rect x="793.5" y="419.2" width="59.1" height="8.9" fill="#f98656"/>
<rect x="793.5" y="427.7" width="59.1" height="8.9" fill="#fffbb9"/>
<rect x="793.5" y="436.3" width="59.1" height="14.6" fill="#fedc8d"/>
<rect x="793.5" y="450.6" width="59.1" height="13.6" fill="#e95d3f"/>
<rect x="793.5" y="463.9" width="59.1" height="8.9" fill="#e95d3f"/>
<rect x="793.5" y="472.5" width="59.1" height="6.0" fill="#f98656"/>
<rect x="793.5" y="478.2" width="59.1" height="9.8" fill="#e95d3f"/>
<rect x="793.5" y="487.7" width="59.1" height="7.9" fill="#fdc07b"/>
<rect x="793.5" y="495.3" width="59.1" height="10.0" fill="#fedc8d"/>
<rect x="852.3" y="265.0" width="60.0" height="12.7" fill="#afd3e6"/>
<rect x="852.3" y="277.4" width="60.0" height="3.2" fill="#afd3e6"/>
<rect x="852.3" y="280.2" width="60.0" height="6.0" fill="#fffbb9"/>
<rect x="852.3" y="285.9" width="60.0" height="7.0" fill="#fdc07b"/>
<rect x="852.3" y="292.6" width="60.0" height="3.2" fill="#feeca3"/>
<rect x="852.3" y="295.5" width="60.0" height="14.6" fill="#fffbb9"/>
<rect x="852.3" y="309.7" width="60.0" height="7.0" fill="#fdc07b"/>
<rect x="852.3" y="316.4" width="60.0" height="6.0" fill="#feeca3"/>
<rect x="852.3" y="322.1" width="60.0" height="8.9" fill="#e0f3f7"/>
<rect x="852.3" y="330.7" width="60.0" height="15.5" fill="#f2fad7"/>
<rect x="852.3" y="345.9" width="60.0" height="15.5" fill="#95c2dc"/>
<rect x="852.3" y="361.1" width="60.0" height="7.0" fill="#e0f3f7"/>
<rect x="852.3" y="367.8" width="60.0" height="7.9" fill="#e95d3f"/>
<rect x="852.3" y="375.4" width="60.0" height="15.5" fill="#fedc8d"/>
<rect x="852.3" y="390.6" width="60.0" height="7.0" fill="#f2fad7"/>
<rect x="852.3" y="397.3" width="60.0" height="15.5" fill="#fdc07b"/>
<rect x="852.3" y="412.5" width="60.0" height="7.0" fill="#afd3e6"/>
<rect x="852.3" y="419.2" width="60.0" height="8.9" fill="#f2fad7"/>
<rect x="852.3" y="427.7" width="60.0" height="15.5" fill="#fffbb9"/>
<rect x="852.3" y="443.0" width="60.0" height="7.9" fill="#f2fad7"/>
<rect x="852.3" y="450.6" width="60.0" height="7.0" fill="#e95d3f"/>
<rect x="852.3" y="457.2" width="60.0" height="7.0" fill="#f98656"/>
<rect x="852.3" y="463.9" width="60.0" height="8.9" fill="#d73027"/>
<rect x="852.3" y="472.5" width="60.0" height="6.0" fill="#e95d3f"/>
<rect x="852.3" y="478.2" width="60.0" height="17.4" fill="#fdc07b"/>
<rect x="852.3" y="495.3" width="60.0" height="6.0" fill="#fedc8d"/>
<rect x="852.3" y="501.0" width="60.0" height="4.3" fill="#f98656"/>
<rect x="912.0" y="265.0" width="60.9" height="6.0" fill="#6e9dc9"/>
<rect x="912.0" y="270.7" width="60.9" height="7.0" fill="#afd3e6"/>
<rect x="912.0" y="277.4" width="60.9" height="3.2" fill="#f2fad7"/>
<rect x="912.0" y="280.2" width="60.9" height="12.7" fill="#f2fad7"/>
<rect x="912.0" y="292.6" width="60.9" height="8.9" fill="#95c2dc"/>
<rect x="912.0" y="301.2" width="60.9" height="8.9" fill="#6e9dc9"/>
<rect x="912.0" y="309.7" width="60.9" height="12.7" fill="#e0f3f7"/>
<rect x="912.0" y="322.1" width="60.9" height="8.9" fill="#4e7eb9"/>
<rect x="912.0" y="330.7" width="60.9" height="15.5" fill="#afd3e6"/>
<rect x="912.0" y="345.9" width="60.9" height="7.0" fill="#95c2dc"/>
<rect x="912.0" y="352.5" width="60.9" height="8.9" fill="#f2fad7"/>
<rect x="912.0" y="361.1" width="60.9" height="7.0" fill="#fffbb9"/>
<rect x="912.0" y="367.8" width="60.9" height="7.9" fill="#fffbb9"/>
<rect x="912.0" y="375.4" width="60.9" height="15.5" fill="#fffbb9"/>
<rect x="912.0" y="390.6" width="60.9" height="7.0" fill="#6e9dc9"/>
<rect x="912.0" y="397.3" width="60.9" height="9.8" fill="#fffbb9"/>
<rect x="912.0" y="406.8" width="60.9" height="6.0" fill="#f2fad7"/>
<rect x="912.0" y="412.5" width="60.9" height="7.0" fill="#6e9dc9"/>
<rect x="912.0" y="419.2" width="60.9" height="8.9" fill="#4e7eb9"/>
<rect x="912.0" y="427.7" width="60.9" height="7.0" fill="#e0f3f7"/>
<rect x="912.0" y="434.4" width="60.9" height="8.9" fill="#95c2dc"/>
<rect x="912.0" y="443.0" width="60.9" height="7.9" fill="#4e7eb9"/>
<rect x="912.0" y="450.6" width="60.9" height="7.0" fill="#f2fad7"/>
<rect x="912.0" y="457.2" width="60.9" height="7.0" fill="#fedc8d"/>
<rect x="912.0" y="463.9" width="60.9" height="8.9" fill="#e95d3f"/>
<rect x="912.0" y="472.5" width="60.9" height="6.0" fill="#fdc07b"/>
<rect x="912.0" y="478.2" width="60.9" height="9.8" fill="#fedc8d"/>
<rect x="912.0" y="487.7" width="60.9" height="12.7" fill="#afd3e6"/>
<rect x="912.0" y="500.0" width="60.9" height="5.2" fill="#fffbb9"/>
<rect x="265.2" y="505.0" width="58.4" height="4.1" fill="#6e9dc9"/>
<rect x="265.2" y="508.8" width="58.4" height="6.0" fill="#6e9dc9"/>
<rect x="265.2" y="514.5" width="58.4" height="3.2" fill="#afd3e6"/>
<rect x="265.2" y="517.4" width="58.4" height="7.0" fill="#f2fad7"/>
<rect x="265.2" y="524.0" width="58.4" height="8.9" fill="#afd3e6"/>
<rect x="265.2" y="532.6" width="58.4" height="6.0" fill="#95c2dc"/>
<rect x="265.2" y="538.3" width="58.4" height="7.0" fill="#afd3e6"/>
<rect x="265.2" y="545.0" width="58.4" height="7.9" fill="#afd3e6"/>
<rect x="265.2" y="552.6" width="58.4" height="7.9" fill="#afd3e6"/>
<rect x="265.2" y="560.2" width="58.4" height="3.2" fill="#f2fad7"/>
<rect x="265.2" y="563.0" width="58.4" height="6.0" fill="#fffbb9"/>
<rect x="265.2" y="568.8" width="58.4" height="6.0" fill="#fedc8d"/>
<rect x="265.2" y="574.5" width="58.4" height="8.9" fill="#feeca3"/>
<rect x="265.2" y="583.0" width="58.4" height="6.0" fill="#fffbb9"/>
<rect x="265.2" y="588.7" width="58.4" height="9.8" fill="#feeca3"/>
<rect x="265.2" y="598.3" width="58.4" height="7.0" fill="#fffbb9"/>
<rect x="265.2" y="604.9" width="58.4" height="8.9" fill="#feeca3"/>
<rect x="265.2" y="613.5" width="58.4" height="7.0" fill="#fedc8d"/>
<rect x="265.2" y="620.1" width="58.4" height="8.9" fill="#fffbb9"/>
<rect x="265.2" y="628.7" width="58.4" height="6.0" fill="#f2fad7"/>
<rect x="265.2" y="634.4" width="58.4" height="7.0" fill="#fffbb9"/>
<rect x="265.2" y="641.1" width="58.4" height="16.5" fill="#f2fad7"/>
<rect x="265.2" y="657.3" width="58.4" height="19.3" fill="#fffbb9"/>
<rect x="265.2" y="676.3" width="58.4" height="3.2" fill="#feeca3"/>
<rect x="265.2" y="679.1" width="58.4" height="7.0" fill="#fdc07b"/>
<rect x="265.2" y="685.8" width="58.4" height="9.8" fill="#fedc8d"/>
<rect x="265.2" y="695.3" width="58.4" height="6.0" fill="#feeca3"/>
<rect x="265.2" y="701.0" width="58.4" height="8.9" fill="#fedc8d"/>
<rect x="265.2" y="709.6" width="58.4" height="7.0" fill="#f98656"/>
<rect x="265.2" y="716.3" width="58.4" height="3.2" fill="#fdc07b"/>
<rect x="265.2" y="719.1" width="58.4" height="26.2" fill="#fecd83"/>
<rect x="323.3" y="505.0" width="60.4" height="19.3" fill="#6e9dc9"/>
<rect x="323.3" y="524.0" width="60.4" height="6.0" fill="#4e7eb9"/>
<rect x="323.3" y="529.7" width="60.4" height="3.2" fill="#6e9dc9"/>
<rect x="323.3" y="532.6" width="60.4" height="12.7" fill="#6e9dc9"/>
<rect x="323.3" y="545.0" width="60.4" height="7.9" fill="#95c2dc"/>
<rect x="323.3" y="552.6" width="60.4" height="7.9" fill="#4e7eb9"/>
<rect x="323.3" y="560.2" width="60.4" height="3.2" fill="#afd3e6"/>
<rect x="323.3" y="563.0" width="60.4" height="11.7" fill="#f2fad7"/>
<rect x="323.3" y="574.5" width="60.4" height="3.2" fill="#e0f3f7"/>
<rect x="323.3" y="577.3" width="60.4" height="6.0" fill="#afd3e6"/>
<rect x="323.3" y="583.0" width="60.4" height="7.0" fill="#e0f3f7"/>
<rect x="323.3" y="589.7" width="60.4" height="24.1" fill="#fffbb9"/>
<rect x="323.3" y="613.5" width="60.4" height="7.0" fill="#f2fad7"/>
<rect x="323.3" y="620.1" width="60.4" height="8.9" fill="#fffbb9"/>
<rect x="323.3" y="628.7" width="60.4" height="6.0" fill="#feeca3"/>
<rect x="323.3" y="634.4" width="60.4" height="15.5" fill="#feeca3"/>
<rect x="323.3" y="649.6" width="60.4" height="7.9" fill="#f2fad7"/>
<rect x="323.3" y="657.3" width="60.4" height="7.9" fill="#feeca3"/>
<rect x="323.3" y="664.9" width="60.4" height="21.2" fill="#fedc8d"/>
<rect x="323.3" y="685.8" width="60.4" height="9.8" fill="#feeca3"/>
<rect x="323.3" y="695.3" width="60.4" height="6.0" fill="#fedc8d"/>
<rect x="323.3" y="701.0" width="60.4" height="15.5" fill="#fffbb9"/>
<rect x="323.3" y="716.3" width="60.4" height="7.9" fill="#feeca3"/>
<rect x="323.3" y="723.9" width="60.4" height="7.9" fill="#fedc8d"/>
<rect x="323.3" y="731.5" width="60.4" height="6.0" fill="#feeca3"/>
<rect x="323.3" y="737.2" width="60.4" height="8.1" fill="#f2fad7"/>
<rect x="383.4" y="505.0" width="57.5" height="4.1" fill="#6e9dc9"/>
<rect x="383.4" y="508.8" width="57.5" height="6.0" fill="#4e7eb9"/>
<rect x="383.4" y="514.5" width="57.5" height="3.2" fill="#6e9dc9"/>
<rect x="383.4" y="517.4" width="57.5" height="7.0" fill="#afd3e6"/>
<rect x="383.4" y="524.0" width="57.5" height="8.9" fill="#4e7eb9"/>
<rect x="383.4" y="532.6" width="57.5" height="27.9" fill="#6e9dc9"/>
<rect x="383.4" y="560.2" width="57.5" height="8.9" fill="#95c2dc"/>
<rect x="383.4" y="568.8" width="57.5" height="9.8" fill="#afd3e6"/>
<rect x="383.4" y="578.3" width="57.5" height="6.0" fill="#95c2dc"/>
<rect x="383.4" y="584.0" width="57.5" height="6.0" fill="#afd3e6"/>
<rect x="383.4" y="589.7" width="57.5" height="7.0" fill="#6e9dc9"/>
<rect x="383.4" y="596.4" width="57.5" height="3.2" fill="#95c2dc"/>
<rect x="383.4" y="599.2" width="57.5" height="6.0" fill="#afd3e6"/>
<rect x="383.4" y="604.9" width="57.5" height="8.9" fill="#95c2dc"/>
<rect x="383.4" y="613.5" width="57.5" height="7.0" fill="#afd3e6"/>
<rect x="383.4" y="620.1" width="57.5" height="8.9" fill="#f2fad7"/>
<rect x="383.4" y="628.7" width="57.5" height="3.2" fill="#e0f3f7"/>
<rect x="383.4" y="631.6" width="57.5" height="3.2" fill="#afd3e6"/>
<rect x="383.4" y="634.4" width="57.5" height="15.5" fill="#6e9dc9"/>
<rect x="383.4" y="649.6" width="57.5" height="7.9" fill="#afd3e6"/>
<rect x="383.4" y="657.3" width="57.5" height="7.9" fill="#e0f3f7"/>
<rect x="383.4" y="664.9" width="57.5" height="6.0" fill="#f2fad7"/>
<rect x="383.4" y="670.6" width="57.5" height="7.9" fill="#afd3e6"/>
<rect x="383.4" y="678.2" width="57.5" height="7.9" fill="#e0f3f7"/>
<rect x="383.4" y="685.8" width="57.5" height="9.8" fill="#afd3e6"/>
<rect x="383.4" y="695.3" width="57.5" height="6.0" fill="#95c2dc"/>
<rect x="383.4" y="701.0" width="57.5" height="3.2" fill="#f2fad7"/>
<rect x="383.4" y="703.9" width="57.5" height="6.0" fill="#fffbb9"/>
<rect x="383.4" y="709.6" width="57.5" height="7.0" fill="#e0f3f7"/>
<rect x="383.4" y="716.3" width="57.5" height="6.0" fill="#6e9dc9"/>
<rect x="383.4" y="722.0" width="57.5" height="23.3" fill="#afd3e6"/>
<rect x="440.6" y="505.0" width="60.7" height="11.7" fill="#6e9dc9"/>
<rect x="440.6" y="516.4" width="60.7" height="7.9" fill="#afd3e6"/>
<rect x="440.6" y="524.0" width="60.7" height="14.6" fill="#95c2dc"/>
<rect x="440.6" y="538.3" width="60.7" height="22.2" fill="#afd3e6"/>
<rect x="440.6" y="560.2" width="60.7" height="3.2" fill="#f2fad7"/>
<rect x="440.6" y="563.0" width="60.7" height="21.2" fill="#f2fad7"/>
<rect x="440.6" y="584.0" width="60.7" height="6.0" fill="#e0f3f7"/>
<rect x="440.6" y="589.7" width="60.7" height="7.0" fill="#f2fad7"/>
<rect x="440.6" y="596.4" width="60.7" height="8.9" fill="#e0f3f7"/>
<rect x="440.6" y="604.9" width="60.7" height="15.5" fill="#f2fad7"/>
<rect x="440.6" y="620.1" width="60.7" height="8.9" fill="#fffbb9"/>
<rect x="440.6" y="628.7" width="60.7" height="6.0" fill="#f2fad7"/>
<rect x="440.6" y="634.4" width="60.7" height="30.8" fill="#e0f3f7"/>
<rect x="440.6" y="664.9" width="60.7" height="13.6" fill="#f2fad7"/>
<rect x="440.6" y="678.2" width="60.7" height="7.9" fill="#feeca3"/>
<rect x="440.6" y="685.8" width="60.7" height="9.8" fill="#f2fad7"/>
<rect x="440.6" y="695.3" width="60.7" height="6.0" fill="#fffbb9"/>
<rect x="440.6" y="701.0" width="60.7" height="23.1" fill="#f2fad7"/>
<rect x="440.6" y="723.9" width="60.7" height="7.9" fill="#f2fad7"/>
<rect x="440.6" y="731.5" width="60.7" height="13.8" fill="#fffbb9"/>
<rect x="501.0" y="505.0" width="58.4" height="10.8" fill="#4e7eb9"/>
<rect x="501.0" y="515.5" width="58.4" height="2.2" fill="#6e9dc9"/>
<rect x="501.0" y="517.4" width="58.4" height="14.6" fill="#6e9dc9"/>
<rect x="501.0" y="531.6" width="58.4" height="7.0" fill="#6e9dc9"/>
<rect x="501.0" y="538.3" width="58.4" height="22.2" fill="#6e9dc9"/>
<rect x="501.0" y="560.2" width="58.4" height="2.2" fill="#e0f3f7"/>
<rect x="501.0" y="562.1" width="58.4" height="13.6" fill="#e0f3f7"/>
<rect x="501.0" y="575.4" width="58.4" height="8.9" fill="#afd3e6"/>
<rect x="501.0" y="584.0" width="58.4" height="6.0" fill="#afd3e6"/>
<rect x="501.0" y="589.7" width="58.4" height="7.0" fill="#e0f3f7"/>
<rect x="501.0" y="596.4" width="58.4" height="8.9" fill="#afd3e6"/>
<rect x="501.0" y="604.9" width="58.4" height="8.9" fill="#afd3e6"/>
<rect x="501.0" y="613.5" width="58.4" height="7.0" fill="#afd3e6"/>
<rect x="501.0" y="620.1" width="58.4" height="8.9" fill="#e0f3f7"/>
<rect x="501.0" y="628.7" width="58.4" height="9.8" fill="#afd3e6"/>
<rect x="501.0" y="638.2" width="58.4" height="11.7" fill="#95c2dc"/>
<rect x="501.0" y="649.6" width="58.4" height="15.5" fill="#afd3e6"/>
<rect x="501.0" y="664.9" width="58.4" height="11.7" fill="#e0f3f7"/>
<rect x="501.0" y="676.3" width="58.4" height="9.8" fill="#f2fad7"/>
<rect x="501.0" y="685.8" width="58.4" height="9.8" fill="#e0f3f7"/>
<rect x="501.0" y="695.3" width="58.4" height="14.6" fill="#e0f3f7"/>
<rect x="501.0" y="709.6" width="58.4" height="7.0" fill="#f2fad7"/>
<rect x="501.0" y="716.3" width="58.4" height="14.6" fill="#afd3e6"/>
<rect x="501.0" y="730.5" width="58.4" height="14.8" fill="#f2fad7"/>
<rect x="559.1" y="505.0" width="58.8" height="12.7" fill="#6e9dc9"/>
<rect x="559.1" y="517.4" width="58.8" height="14.6" fill="#afd3e6"/>
<rect x="559.1" y="531.6" width="58.8" height="7.0" fill="#95c2dc"/>
<rect x="559.1" y="538.3" width="58.8" height="7.0" fill="#afd3e6"/>
<rect x="559.1" y="545.0" width="58.8" height="15.5" fill="#afd3e6"/>
<rect x="559.1" y="560.2" width="58.8" height="9.8" fill="#e0f3f7"/>
<rect x="559.1" y="569.7" width="58.8" height="13.6" fill="#afd3e6"/>
<rect x="559.1" y="583.0" width="58.8" height="7.0" fill="#afd3e6"/>
<rect x="559.1" y="589.7" width="58.8" height="8.9" fill="#afd3e6"/>
<rect x="559.1" y="598.3" width="58.8" height="22.2" fill="#afd3e6"/>
<rect x="559.1" y="620.1" width="58.8" height="8.9" fill="#e0f3f7"/>
<rect x="559.1" y="628.7" width="58.8" height="12.7" fill="#95c2dc"/>
<rect x="559.1" y="641.1" width="58.8" height="8.9" fill="#95c2dc"/>
<rect x="559.1" y="649.6" width="58.8" height="25.0" fill="#95c2dc"/>
<rect x="559.1" y="674.4" width="58.8" height="5.1" fill="#afd3e6"/>
<rect x="559.1" y="679.1" width="58.8" height="7.0" fill="#e0f3f7"/>
<rect x="559.1" y="685.8" width="58.8" height="9.8" fill="#afd3e6"/>
<rect x="559.1" y="695.3" width="58.8" height="14.6" fill="#95c2dc"/>
<rect x="559.1" y="709.6" width="58.8" height="7.0" fill="#afd3e6"/>
<rect x="559.1" y="716.3" width="58.8" height="14.6" fill="#afd3e6"/>
<rect x="559.1" y="730.5" width="58.8" height="14.8" fill="#e0f3f7"/>
<rect x="617.6" y="505.0" width="58.9" height="4.1" fill="#f2fad7"/>
<rect x="617.6" y="508.8" width="58.9" height="7.0" fill="#fffbb9"/>
<rect x="617.6" y="515.5" width="58.9" height="3.2" fill="#e0f3f7"/>
<rect x="617.6" y="518.3" width="58.9" height="6.0" fill="#afd3e6"/>
<rect x="617.6" y="524.0" width="58.9" height="21.2" fill="#f2fad7"/>
<rect x="617.6" y="545.0" width="58.9" height="15.5" fill="#feeca3"/>
<rect x="617.6" y="560.2" width="58.9" height="8.9" fill="#feeca3"/>
<rect x="617.6" y="568.8" width="58.9" height="7.0" fill="#afd3e6"/>
<rect x="617.6" y="575.4" width="58.9" height="8.9" fill="#f2fad7"/>
<rect x="617.6" y="584.0" width="58.9" height="6.0" fill="#e0f3f7"/>
<rect x="617.6" y="589.7" width="58.9" height="7.0" fill="#fffbb9"/>
<rect x="617.6" y="596.4" width="58.9" height="8.9" fill="#f2fad7"/>
<rect x="617.6" y="604.9" width="58.9" height="15.5" fill="#e0f3f7"/>
<rect x="617.6" y="620.1" width="58.9" height="14.6" fill="#fedc8d"/>
<rect x="617.6" y="634.4" width="58.9" height="7.0" fill="#f2fad7"/>
<rect x="617.6" y="641.1" width="58.9" height="24.1" fill="#f2fad7"/>
<rect x="617.6" y="664.9" width="58.9" height="11.7" fill="#fffbb9"/>
<rect x="617.6" y="676.3" width="58.9" height="19.3" fill="#f2fad7"/>
<rect x="617.6" y="695.3" width="58.9" height="6.0" fill="#fffbb9"/>
<rect x="617.6" y="701.0" width="58.9" height="8.9" fill="#e0f3f7"/>
<rect x="617.6" y="709.6" width="58.9" height="7.0" fill="#6e9dc9"/>
<rect x="617.6" y="716.3" width="58.9" height="3.2" fill="#afd3e6"/>
<rect x="617.6" y="719.1" width="58.9" height="3.2" fill="#e0f3f7"/>
<rect x="617.6" y="722.0" width="58.9" height="8.9" fill="#95c2dc"/>
<rect x="617.6" y="730.5" width="58.9" height="7.9" fill="#f2fad7"/>
<rect x="617.6" y="738.1" width="58.9" height="7.2" fill="#e0f3f7"/>
<rect x="676.2" y="505.0" width="58.8" height="4.1" fill="#afd3e6"/>
<rect x="676.2" y="508.8" width="58.8" height="7.0" fill="#e0f3f7"/>
<rect x="676.2" y="515.5" width="58.8" height="8.9" fill="#f2fad7"/>
<rect x="676.2" y="524.0" width="58.8" height="8.9" fill="#feeca3"/>
<rect x="676.2" y="532.6" width="58.8" height="6.0" fill="#e0f3f7"/>
<rect x="676.2" y="538.3" width="58.8" height="7.0" fill="#f2fad7"/>
<rect x="676.2" y="545.0" width="58.8" height="24.1" fill="#e0f3f7"/>
<rect x="676.2" y="568.8" width="58.8" height="14.6" fill="#afd3e6"/>
<rect x="676.2" y="583.0" width="58.8" height="7.0" fill="#95c2dc"/>
<rect x="676.2" y="589.7" width="58.8" height="7.0" fill="#f2fad7"/>
<rect x="676.2" y="596.4" width="58.8" height="17.4" fill="#afd3e6"/>
<rect x="676.2" y="613.5" width="58.8" height="7.0" fill="#95c2dc"/>
<rect x="676.2" y="620.1" width="58.8" height="14.6" fill="#6e9dc9"/>
<rect x="676.2" y="634.4" width="58.8" height="15.5" fill="#afd3e6"/>
<rect x="676.2" y="649.6" width="58.8" height="15.5" fill="#95c2dc"/>
<rect x="676.2" y="664.9" width="58.8" height="9.8" fill="#6e9dc9"/>
<rect x="676.2" y="674.4" width="58.8" height="26.9" fill="#95c2dc"/>
<rect x="676.2" y="701.0" width="58.8" height="8.9" fill="#6e9dc9"/>
<rect x="676.2" y="709.6" width="58.8" height="7.0" fill="#95c2dc"/>
<rect x="676.2" y="716.3" width="58.8" height="6.0" fill="#afd3e6"/>
<rect x="676.2" y="722.0" width="58.8" height="8.9" fill="#afd3e6"/>
<rect x="676.2" y="730.5" width="58.8" height="14.8" fill="#e0f3f7"/>
<rect x="734.7" y="505.0" width="59.1" height="4.1" fill="#fdc07b"/>
<rect x="734.7" y="508.8" width="59.1" height="8.9" fill="#f98656"/>
<rect x="734.7" y="517.4" width="59.1" height="7.0" fill="#e95d3f"/>
<rect x="734.7" y="524.0" width="59.1" height="7.9" fill="#d73027"/>
<rect x="734.7" y="531.6" width="59.1" height="7.0" fill="#e95d3f"/>
<rect x="734.7" y="538.3" width="59.1" height="7.0" fill="#d73027"/>
<rect x="734.7" y="545.0" width="59.1" height="8.9" fill="#e95d3f"/>
<rect x="734.7" y="553.5" width="59.1" height="7.0" fill="#f98656"/>
<rect x="734.7" y="560.2" width="59.1" height="2.2" fill="#fdc07b"/>
<rect x="734.7" y="562.1" width="59.1" height="27.9" fill="#f2fad7"/>
<rect x="734.7" y="589.7" width="59.1" height="7.0" fill="#e0f3f7"/>
<rect x="734.7" y="596.4" width="59.1" height="8.9" fill="#f2fad7"/>
<rect x="734.7" y="604.9" width="59.1" height="8.9" fill="#e0f3f7"/>
<rect x="734.7" y="613.5" width="59.1" height="15.5" fill="#f2fad7"/>
<rect x="734.7" y="628.7" width="59.1" height="6.0" fill="#afd3e6"/>
<rect x="734.7" y="634.4" width="59.1" height="15.5" fill="#afd3e6"/>
<rect x="734.7" y="649.6" width="59.1" height="7.9" fill="#e0f3f7"/>
<rect x="734.7" y="657.3" width="59.1" height="7.9" fill="#afd3e6"/>
<rect x="734.7" y="664.9" width="59.1" height="30.8" fill="#afd3e6"/>
<rect x="734.7" y="695.3" width="59.1" height="6.0" fill="#4e7eb9"/>
<rect x="734.7" y="701.0" width="59.1" height="8.9" fill="#95c2dc"/>
<rect x="734.7" y="709.6" width="59.1" height="12.7" fill="#afd3e6"/>
<rect x="734.7" y="722.0" width="59.1" height="8.9" fill="#e0f3f7"/>
<rect x="734.7" y="730.5" width="59.1" height="7.0" fill="#afd3e6"/>
<rect x="734.7" y="737.2" width="59.1" height="8.1" fill="#e0f3f7"/>
<rect x="793.5" y="505.0" width="59.1" height="4.1" fill="#fdc07b"/>
<rect x="793.5" y="508.8" width="59.1" height="7.0" fill="#f98656"/>
<rect x="793.5" y="515.5" width="59.1" height="8.9" fill="#d73027"/>
<rect x="793.5" y="524.0" width="59.1" height="14.6" fill="#f98656"/>
<rect x="793.5" y="538.3" width="59.1" height="7.0" fill="#e95d3f"/>
<rect x="793.5" y="545.0" width="59.1" height="15.5" fill="#fedc8d"/>
<rect x="793.5" y="560.2" width="59.1" height="8.9" fill="#f2fad7"/>
<rect x="793.5" y="568.8" width="59.1" height="7.0" fill="#feeca3"/>
<rect x="793.5" y="575.4" width="59.1" height="21.2" fill="#f2fad7"/>
<rect x="793.5" y="596.4" width="59.1" height="8.9" fill="#feeca3"/>
<rect x="793.5" y="604.9" width="59.1" height="24.1" fill="#f2fad7"/>
<rect x="793.5" y="628.7" width="59.1" height="6.0" fill="#e0f3f7"/>
<rect x="793.5" y="634.4" width="59.1" height="7.0" fill="#fedc8d"/>
<rect x="793.5" y="641.1" width="59.1" height="8.9" fill="#f2fad7"/>
<rect x="793.5" y="649.6" width="59.1" height="15.5" fill="#fffbb9"/>
<rect x="793.5" y="664.9" width="59.1" height="30.8" fill="#e0f3f7"/>
<rect x="793.5" y="695.3" width="59.1" height="6.0" fill="#afd3e6"/>
<rect x="793.5" y="701.0" width="59.1" height="8.9" fill="#95c2dc"/>
<rect x="793.5" y="709.6" width="59.1" height="7.0" fill="#fffbb9"/>
<rect x="793.5" y="716.3" width="59.1" height="21.2" fill="#e0f3f7"/>
<rect x="793.5" y="737.2" width="59.1" height="8.1" fill="#f2fad7"/>
<rect x="852.3" y="505.0" width="60.0" height="4.1" fill="#fdc07b"/>
<rect x="852.3" y="508.8" width="60.0" height="15.5" fill="#fedc8d"/>
<rect x="852.3" y="524.0" width="60.0" height="7.9" fill="#feeca3"/>
<rect x="852.3" y="531.6" width="60.0" height="7.0" fill="#fdc07b"/>
<rect x="852.3" y="538.3" width="60.0" height="15.5" fill="#fedc8d"/>
<rect x="852.3" y="553.5" width="60.0" height="30.8" fill="#fc9e64"/>
<rect x="852.3" y="584.0" width="60.0" height="6.0" fill="#f98656"/>
<rect x="852.3" y="589.7" width="60.0" height="7.0" fill="#fffbb9"/>
<rect x="852.3" y="596.4" width="60.0" height="3.2" fill="#feeca3"/>
<rect x="852.3" y="599.2" width="60.0" height="14.6" fill="#fecd83"/>
<rect x="852.3" y="613.5" width="60.0" height="7.0" fill="#fedc8d"/>
<rect x="852.3" y="620.1" width="60.0" height="8.9" fill="#fdc07b"/>
<rect x="852.3" y="628.7" width="60.0" height="12.7" fill="#fedc8d"/>
<rect x="852.3" y="641.1" width="60.0" height="8.9" fill="#fdc07b"/>
<rect x="852.3" y="649.6" width="60.0" height="15.5" fill="#fc9e64"/>
<rect x="852.3" y="664.9" width="60.0" height="14.6" fill="#fedc8d"/>
<rect x="852.3" y="679.1" width="60.0" height="7.0" fill="#fffbb9"/>
<rect x="852.3" y="685.8" width="60.0" height="9.8" fill="#f2fad7"/>
<rect x="852.3" y="695.3" width="60.0" height="6.0" fill="#fffbb9"/>
<rect x="852.3" y="701.0" width="60.0" height="8.9" fill="#feeca3"/>
<rect x="852.3" y="709.6" width="60.0" height="7.0" fill="#fffbb9"/>
<rect x="852.3" y="716.3" width="60.0" height="3.2" fill="#fdc07b"/>
<rect x="852.3" y="719.1" width="60.0" height="11.7" fill="#e95d3f"/>
<rect x="852.3" y="730.5" width="60.0" height="7.0" fill="#fedc8d"/>
<rect x="852.3" y="737.2" width="60.0" height="4.1" fill="#fdc07b"/>
<rect x="852.3" y="741.0" width="60.0" height="4.3" fill="#f98656"/>
<rect x="912.0" y="505.0" width="60.9" height="4.1" fill="#f2fad7"/>
<rect x="912.0" y="508.8" width="60.9" height="7.0" fill="#e0f3f7"/>
<rect x="912.0" y="515.5" width="60.9" height="2.2" fill="#f2fad7"/>
<rect x="912.0" y="517.4" width="60.9" height="7.0" fill="#fffbb9"/>
<rect x="912.0" y="524.0" width="60.9" height="7.9" fill="#e0f3f7"/>
<rect x="912.0" y="531.6" width="60.9" height="7.0" fill="#fedc8d"/>
<rect x="912.0" y="538.3" width="60.9" height="7.0" fill="#feeca3"/>
<rect x="912.0" y="545.0" width="60.9" height="8.9" fill="#e0f3f7"/>
<rect x="912.0" y="553.5" width="60.9" height="7.0" fill="#fffbb9"/>
<rect x="912.0" y="560.2" width="60.9" height="8.9" fill="#f98656"/>
<rect x="912.0" y="568.8" width="60.9" height="7.0" fill="#fecd83"/>
<rect x="912.0" y="575.4" width="60.9" height="8.9" fill="#fc9e64"/>
<rect x="912.0" y="584.0" width="60.9" height="6.0" fill="#fedc8d"/>
<rect x="912.0" y="589.7" width="60.9" height="15.5" fill="#feeca3"/>
<rect x="912.0" y="604.9" width="60.9" height="15.5" fill="#fedc8d"/>
<rect x="912.0" y="620.1" width="60.9" height="8.9" fill="#e95d3f"/>
<rect x="912.0" y="628.7" width="60.9" height="6.0" fill="#f98656"/>
<rect x="912.0" y="634.4" width="60.9" height="7.0" fill="#e95d3f"/>
<rect x="912.0" y="641.1" width="60.9" height="8.9" fill="#f98656"/>
<rect x="912.0" y="649.6" width="60.9" height="7.0" fill="#e95d3f"/>
<rect x="912.0" y="656.3" width="60.9" height="3.2" fill="#f98656"/>
<rect x="912.0" y="659.2" width="60.9" height="6.0" fill="#fdc07b"/>
<rect x="912.0" y="664.9" width="60.9" height="7.9" fill="#fc9e64"/>
<rect x="912.0" y="672.5" width="60.9" height="7.0" fill="#fffbb9"/>
<rect x="912.0" y="679.1" width="60.9" height="13.6" fill="#feeca3"/>
<rect x="912.0" y="692.5" width="60.9" height="3.2" fill="#fdc07b"/>
<rect x="912.0" y="695.3" width="60.9" height="6.0" fill="#fc9e64"/>
<rect x="912.0" y="701.0" width="60.9" height="8.9" fill="#fecd83"/>
<rect x="912.0" y="709.6" width="60.9" height="7.0" fill="#e95d3f"/>
<rect x="912.0" y="716.3" width="60.9" height="3.2" fill="#fdc07b"/>
<rect x="912.0" y="719.1" width="60.9" height="18.4" fill="#fc9e64"/>
<rect x="912.0" y="737.2" width="60.9" height="8.1" fill="#fdc07b"/>
<rect x="265.2" y="745.0" width="58.4" height="1.8" fill="#f98656"/>
<rect x="265.2" y="746.5" width="58.4" height="15.0" fill="#fffbb9"/>
<rect x="265.2" y="761.2" width="58.4" height="14.6" fill="#e0f3f7"/>
<rect x="265.2" y="775.5" width="58.4" height="7.0" fill="#fffbb9"/>
<rect x="265.2" y="782.1" width="58.4" height="15.5" fill="#fedc8d"/>
<rect x="265.2" y="797.3" width="58.4" height="8.9" fill="#fc9e64"/>
<rect x="265.2" y="805.9" width="58.4" height="7.0" fill="#e95d3f"/>
<rect x="265.2" y="812.6" width="58.4" height="7.9" fill="#f2fad7"/>
<rect x="265.2" y="820.2" width="58.4" height="8.9" fill="#feeca3"/>
<rect x="265.2" y="828.7" width="58.4" height="7.0" fill="#fffbb9"/>
<rect x="265.2" y="835.4" width="58.4" height="16.5" fill="#e0f3f7"/>
<rect x="265.2" y="851.6" width="58.4" height="12.7" fill="#f2fad7"/>
<rect x="265.2" y="864.0" width="58.4" height="8.9" fill="#e0f3f7"/>
<rect x="265.2" y="872.5" width="58.4" height="14.6" fill="#f2fad7"/>
<rect x="265.2" y="886.8" width="58.4" height="10.8" fill="#95c2dc"/>
<rect x="265.2" y="897.3" width="58.4" height="10.8" fill="#afd3e6"/>
<rect x="265.2" y="907.7" width="58.4" height="9.8" fill="#e0f3f7"/>
<rect x="265.2" y="917.2" width="58.4" height="7.0" fill="#e0f3f7"/>
<rect x="265.2" y="923.9" width="58.4" height="14.6" fill="#f2fad7"/>
<rect x="265.2" y="938.2" width="58.4" height="15.5" fill="#afd3e6"/>
<rect x="265.2" y="953.4" width="58.4" height="7.0" fill="#e0f3f7"/>
<rect x="265.2" y="960.1" width="58.4" height="8.9" fill="#afd3e6"/>
<rect x="265.2" y="968.6" width="58.4" height="16.7" fill="#f2fad7"/>
<rect x="323.3" y="745.0" width="60.4" height="16.5" fill="#feeca3"/>
<rect x="323.3" y="761.2" width="60.4" height="6.0" fill="#fdc07b"/>
<rect x="323.3" y="766.9" width="60.4" height="7.0" fill="#feeca3"/>
<rect x="323.3" y="773.5" width="60.4" height="3.2" fill="#feeca3"/>
<rect x="323.3" y="776.4" width="60.4" height="6.0" fill="#afd3e6"/>
<rect x="323.3" y="782.1" width="60.4" height="8.9" fill="#e0f3f7"/>
<rect x="323.3" y="790.7" width="60.4" height="7.0" fill="#e0f3f7"/>
<rect x="323.3" y="797.3" width="60.4" height="3.2" fill="#fdc07b"/>
<rect x="323.3" y="800.2" width="60.4" height="12.7" fill="#fedc8d"/>
<rect x="323.3" y="812.6" width="60.4" height="7.0" fill="#fecd83"/>
<rect x="323.3" y="819.2" width="60.4" height="17.4" fill="#feeca3"/>
<rect x="323.3" y="836.4" width="60.4" height="7.0" fill="#fffbb9"/>
<rect x="323.3" y="843.0" width="60.4" height="8.9" fill="#f2fad7"/>
<rect x="323.3" y="851.6" width="60.4" height="11.7" fill="#fffbb9"/>
<rect x="323.3" y="863.0" width="60.4" height="8.9" fill="#fedc8d"/>
<rect x="323.3" y="871.6" width="60.4" height="15.5" fill="#f2fad7"/>
<rect x="323.3" y="886.8" width="60.4" height="8.9" fill="#e0f3f7"/>
<rect x="323.3" y="895.4" width="60.4" height="5.1" fill="#fffbb9"/>
<rect x="323.3" y="900.1" width="60.4" height="7.9" fill="#e0f3f7"/>
<rect x="323.3" y="907.7" width="60.4" height="9.8" fill="#f2fad7"/>
<rect x="323.3" y="917.2" width="60.4" height="7.0" fill="#fffbb9"/>
<rect x="323.3" y="923.9" width="60.4" height="14.6" fill="#e0f3f7"/>
<rect x="323.3" y="938.2" width="60.4" height="7.0" fill="#afd3e6"/>
<rect x="323.3" y="944.8" width="60.4" height="8.9" fill="#afd3e6"/>
<rect x="323.3" y="953.4" width="60.4" height="15.5" fill="#e0f3f7"/>
<rect x="323.3" y="968.6" width="60.4" height="7.9" fill="#afd3e6"/>
<rect x="323.3" y="976.2" width="60.4" height="9.1" fill="#e0f3f7"/>
<rect x="383.4" y="745.0" width="57.5" height="2.2" fill="#95c2dc"/>
<rect x="383.4" y="746.9" width="57.5" height="6.0" fill="#e0f3f7"/>
<rect x="383.4" y="752.6" width="57.5" height="3.2" fill="#afd3e6"/>
<rect x="383.4" y="755.5" width="57.5" height="6.0" fill="#6e9dc9"/>
<rect x="383.4" y="761.2" width="57.5" height="6.0" fill="#afd3e6"/>
<rect x="383.4" y="766.9" width="57.5" height="8.9" fill="#e0f3f7"/>
<rect x="383.4" y="775.5" width="57.5" height="7.0" fill="#feeca3"/>
<rect x="383.4" y="782.1" width="57.5" height="8.9" fill="#e0f3f7"/>
<rect x="383.4" y="790.7" width="57.5" height="7.0" fill="#f2fad7"/>
<rect x="383.4" y="797.3" width="57.5" height="3.2" fill="#fdc07b"/>
<rect x="383.4" y="800.2" width="57.5" height="6.0" fill="#fc9e64"/>
<rect x="383.4" y="805.9" width="57.5" height="7.0" fill="#fffbb9"/>
<rect x="383.4" y="812.6" width="57.5" height="7.9" fill="#f2fad7"/>
<rect x="383.4" y="820.2" width="57.5" height="7.0" fill="#fffbb9"/>
<rect x="383.4" y="826.8" width="57.5" height="9.8" fill="#afd3e6"/>
<rect x="383.4" y="836.4" width="57.5" height="15.5" fill="#95c2dc"/>
<rect x="383.4" y="851.6" width="57.5" height="11.7" fill="#95c2dc"/>
<rect x="383.4" y="863.0" width="57.5" height="8.9" fill="#e0f3f7"/>
<rect x="383.4" y="871.6" width="57.5" height="7.9" fill="#d0e9f2"/>
<rect x="383.4" y="879.2" width="57.5" height="16.5" fill="#95c2dc"/>
<rect x="383.4" y="895.4" width="57.5" height="5.1" fill="#4e7eb9"/>
<rect x="383.4" y="900.1" width="57.5" height="7.9" fill="#6e9dc9"/>
<rect x="383.4" y="907.7" width="57.5" height="9.8" fill="#4e7eb9"/>
<rect x="383.4" y="917.2" width="57.5" height="7.0" fill="#6e9dc9"/>
<rect x="383.4" y="923.9" width="57.5" height="8.9" fill="#95c2dc"/>
<rect x="383.4" y="932.5" width="57.5" height="21.2" fill="#6e9dc9"/>
<rect x="383.4" y="953.4" width="57.5" height="15.5" fill="#6e9dc9"/>
<rect x="383.4" y="968.6" width="57.5" height="7.9" fill="#95c2dc"/>
<rect x="383.4" y="976.2" width="57.5" height="9.1" fill="#95c2dc"/>
<rect x="440.6" y="745.0" width="60.7" height="7.9" fill="#f2fad7"/>
<rect x="440.6" y="752.6" width="60.7" height="8.9" fill="#e0f3f7"/>
<rect x="440.6" y="761.2" width="60.7" height="6.0" fill="#afd3e6"/>
<rect x="440.6" y="766.9" width="60.7" height="8.9" fill="#d0e9f2"/>
<rect x="440.6" y="775.5" width="60.7" height="22.2" fill="#fffbb9"/>
<rect x="440.6" y="797.3" width="60.7" height="3.2" fill="#feeca3"/>
<rect x="440.6" y="800.2" width="60.7" height="12.7" fill="#fedc8d"/>
<rect x="440.6" y="812.6" width="60.7" height="7.9" fill="#feeca3"/>
<rect x="440.6" y="820.2" width="60.7" height="7.0" fill="#fecd83"/>
<rect x="440.6" y="826.8" width="60.7" height="8.9" fill="#feeca3"/>
<rect x="440.6" y="835.4" width="60.7" height="7.0" fill="#fffbb9"/>
<rect x="440.6" y="842.1" width="60.7" height="9.8" fill="#e0f3f7"/>
<rect x="440.6" y="851.6" width="60.7" height="35.5" fill="#f2fad7"/>
<rect x="440.6" y="886.8" width="60.7" height="8.9" fill="#4e7eb9"/>
<rect x="440.6" y="895.4" width="60.7" height="22.2" fill="#95c2dc"/>
<rect x="440.6" y="917.2" width="60.7" height="7.0" fill="#afd3e6"/>
<rect x="440.6" y="923.9" width="60.7" height="14.6" fill="#afd3e6"/>
<rect x="440.6" y="938.2" width="60.7" height="30.8" fill="#95c2dc"/>
<rect x="440.6" y="968.6" width="60.7" height="7.9" fill="#afd3e6"/>
<rect x="440.6" y="976.2" width="60.7" height="9.1" fill="#afd3e6"/>
<rect x="501.0" y="745.0" width="58.4" height="7.9" fill="#d0e9f2"/>
<rect x="501.0" y="752.6" width="58.4" height="8.9" fill="#95c2dc"/>
<rect x="501.0" y="761.2" width="58.4" height="6.0" fill="#6e9dc9"/>
<rect x="501.0" y="766.9" width="58.4" height="8.9" fill="#95c2dc"/>
<rect x="501.0" y="775.5" width="58.4" height="22.2" fill="#e0f3f7"/>
<rect x="501.0" y="797.3" width="58.4" height="15.5" fill="#feeca3"/>
<rect x="501.0" y="812.6" width="58.4" height="7.9" fill="#e0f3f7"/>
<rect x="501.0" y="820.2" width="58.4" height="7.0" fill="#fffbb9"/>
<rect x="501.0" y="826.8" width="58.4" height="9.8" fill="#f2fad7"/>
<rect x="501.0" y="836.4" width="58.4" height="6.0" fill="#afd3e6"/>
<rect x="501.0" y="842.1" width="58.4" height="9.8" fill="#afd3e6"/>
<rect x="501.0" y="851.6" width="58.4" height="11.7" fill="#afd3e6"/>
<rect x="501.0" y="863.0" width="58.4" height="8.9" fill="#afd3e6"/>
<rect x="501.0" y="871.6" width="58.4" height="15.5" fill="#afd3e6"/>
<rect x="501.0" y="886.8" width="58.4" height="10.8" fill="#4e7eb9"/>
<rect x="501.0" y="897.3" width="58.4" height="10.8" fill="#6e9dc9"/>
<rect x="501.0" y="907.7" width="58.4" height="9.8" fill="#6e9dc9"/>
<rect x="501.0" y="917.2" width="58.4" height="21.2" fill="#6e9dc9"/>
<rect x="501.0" y="938.2" width="58.4" height="15.5" fill="#6e9dc9"/>
<rect x="501.0" y="953.4" width="58.4" height="15.5" fill="#6e9dc9"/>
<rect x="501.0" y="968.6" width="58.4" height="16.7" fill="#95c2dc"/>
<rect x="559.1" y="745.0" width="58.8" height="7.9" fill="#afd3e6"/>
<rect x="559.1" y="752.6" width="58.8" height="8.9" fill="#6e9dc9"/>
<rect x="559.1" y="761.2" width="58.8" height="6.0" fill="#4e7eb9"/>
<rect x="559.1" y="766.9" width="58.8" height="8.9" fill="#6e9dc9"/>
<rect x="559.1" y="775.5" width="58.8" height="7.0" fill="#afd3e6"/>
<rect x="559.1" y="782.1" width="58.8" height="8.9" fill="#d0e9f2"/>
<rect x="559.1" y="790.7" width="58.8" height="7.0" fill="#e0f3f7"/>
<rect x="559.1" y="797.3" width="58.8" height="15.5" fill="#fffbb9"/>
<rect x="559.1" y="812.6" width="58.8" height="7.0" fill="#afd3e6"/>
<rect x="559.1" y="819.2" width="58.8" height="17.4" fill="#f2fad7"/>
<rect x="559.1" y="836.4" width="58.8" height="7.0" fill="#afd3e6"/>
<rect x="559.1" y="843.0" width="58.8" height="8.9" fill="#d0e9f2"/>
<rect x="559.1" y="851.6" width="58.8" height="11.7" fill="#afd3e6"/>
<rect x="559.1" y="863.0" width="58.8" height="8.9" fill="#afd3e6"/>
<rect x="559.1" y="871.6" width="58.8" height="15.5" fill="#afd3e6"/>
<rect x="559.1" y="886.8" width="58.8" height="10.8" fill="#4e7eb9"/>
<rect x="559.1" y="897.3" width="58.8" height="10.8" fill="#6e9dc9"/>
<rect x="559.1" y="907.7" width="58.8" height="9.8" fill="#6e9dc9"/>
<rect x="559.1" y="917.2" width="58.8" height="15.5" fill="#6e9dc9"/>
<rect x="559.1" y="932.5" width="58.8" height="6.0" fill="#95c2dc"/>
<rect x="559.1" y="938.2" width="58.8" height="30.8" fill="#6e9dc9"/>
<rect x="559.1" y="968.6" width="58.8" height="16.7" fill="#95c2dc"/>
<rect x="617.6" y="745.0" width="58.9" height="7.9" fill="#fffbb9"/>
<rect x="617.6" y="752.6" width="58.9" height="14.6" fill="#f2fad7"/>
<rect x="617.6" y="766.9" width="58.9" height="8.9" fill="#fffbb9"/>
<rect x="617.6" y="775.5" width="58.9" height="7.0" fill="#feeca3"/>
<rect x="617.6" y="782.1" width="58.9" height="15.5" fill="#f2fad7"/>
<rect x="617.6" y="797.3" width="58.9" height="8.9" fill="#feeca3"/>
<rect x="617.6" y="805.9" width="58.9" height="7.0" fill="#e0f3f7"/>
<rect x="617.6" y="812.6" width="58.9" height="7.9" fill="#e95d3f"/>
<rect x="617.6" y="820.2" width="58.9" height="7.0" fill="#f98656"/>
<rect x="617.6" y="826.8" width="58.9" height="7.0" fill="#fc9e64"/>
<rect x="617.6" y="833.5" width="58.9" height="3.2" fill="#e95d3f"/>
<rect x="617.6" y="836.4" width="58.9" height="6.0" fill="#e95d3f"/>
<rect x="617.6" y="842.1" width="58.9" height="15.5" fill="#feeca3"/>
<rect x="617.6" y="857.3" width="58.9" height="6.0" fill="#fffbb9"/>
<rect x="617.6" y="863.0" width="58.9" height="16.5" fill="#fedc8d"/>
<rect x="617.6" y="879.2" width="58.9" height="7.9" fill="#fedc8d"/>
<rect x="617.6" y="886.8" width="58.9" height="8.9" fill="#95c2dc"/>
<rect x="617.6" y="895.4" width="58.9" height="12.7" fill="#f2fad7"/>
<rect x="617.6" y="907.7" width="58.9" height="9.8" fill="#e0f3f7"/>
<rect x="617.6" y="917.2" width="58.9" height="7.0" fill="#fffbb9"/>
<rect x="617.6" y="923.9" width="58.9" height="8.9" fill="#afd3e6"/>
<rect x="617.6" y="932.5" width="58.9" height="11.7" fill="#e0f3f7"/>
<rect x="617.6" y="943.9" width="58.9" height="9.8" fill="#fffbb9"/>
<rect x="617.6" y="953.4" width="58.9" height="15.5" fill="#afd3e6"/>
<rect x="617.6" y="968.6" width="58.9" height="7.9" fill="#afd3e6"/>
<rect x="617.6" y="976.2" width="58.9" height="9.1" fill="#e0f3f7"/>
<rect x="676.2" y="745.0" width="58.8" height="7.9" fill="#95c2dc"/>
<rect x="676.2" y="752.6" width="58.8" height="8.9" fill="#afd3e6"/>
<rect x="676.2" y="761.2" width="58.8" height="14.6" fill="#4e7eb9"/>
<rect x="676.2" y="775.5" width="58.8" height="7.0" fill="#6e9dc9"/>
<rect x="676.2" y="782.1" width="58.8" height="8.9" fill="#afd3e6"/>
<rect x="676.2" y="790.7" width="58.8" height="7.0" fill="#95c2dc"/>
<rect x="676.2" y="797.3" width="58.8" height="8.9" fill="#6e9dc9"/>
<rect x="676.2" y="805.9" width="58.8" height="7.0" fill="#95c2dc"/>
<rect x="676.2" y="812.6" width="58.8" height="7.9" fill="#6e9dc9"/>
<rect x="676.2" y="820.2" width="58.8" height="7.0" fill="#95c2dc"/>
<rect x="676.2" y="826.8" width="58.8" height="15.5" fill="#e0f3f7"/>
<rect x="676.2" y="842.1" width="58.8" height="21.2" fill="#d0e9f2"/>
<rect x="676.2" y="863.0" width="58.8" height="8.9" fill="#6e9dc9"/>
<rect x="676.2" y="871.6" width="58.8" height="7.9" fill="#95c2dc"/>
<rect x="676.2" y="879.2" width="58.8" height="7.9" fill="#afd3e6"/>
<rect x="676.2" y="886.8" width="58.8" height="8.9" fill="#4e7eb9"/>
<rect x="676.2" y="895.4" width="58.8" height="12.7" fill="#95c2dc"/>
<rect x="676.2" y="907.7" width="58.8" height="16.5" fill="#afd3e6"/>
<rect x="676.2" y="923.9" width="58.8" height="8.9" fill="#95c2dc"/>
<rect x="676.2" y="932.5" width="58.8" height="6.0" fill="#e0f3f7"/>
<rect x="676.2" y="938.2" width="58.8" height="15.5" fill="#95c2dc"/>
<rect x="676.2" y="953.4" width="58.8" height="7.0" fill="#afd3e6"/>
<rect x="676.2" y="960.1" width="58.8" height="25.2" fill="#afd3e6"/>
<rect x="734.7" y="745.0" width="59.1" height="16.5" fill="#95c2dc"/>
<rect x="734.7" y="761.2" width="59.1" height="6.0" fill="#4e7eb9"/>
<rect x="734.7" y="766.9" width="59.1" height="8.9" fill="#6e9dc9"/>
<rect x="734.7" y="775.5" width="59.1" height="7.0" fill="#e0f3f7"/>
<rect x="734.7" y="782.1" width="59.1" height="8.9" fill="#f2fad7"/>
<rect x="734.7" y="790.7" width="59.1" height="7.0" fill="#fffbb9"/>
<rect x="734.7" y="797.3" width="59.1" height="8.9" fill="#e0f3f7"/>
<rect x="734.7" y="805.9" width="59.1" height="7.0" fill="#afd3e6"/>
<rect x="734.7" y="812.6" width="59.1" height="7.0" fill="#6e9dc9"/>
<rect x="734.7" y="819.2" width="59.1" height="7.9" fill="#afd3e6"/>
<rect x="734.7" y="826.8" width="59.1" height="8.9" fill="#f2fad7"/>
<rect x="734.7" y="835.4" width="59.1" height="7.0" fill="#e0f3f7"/>
<rect x="734.7" y="842.1" width="59.1" height="15.5" fill="#fffbb9"/>
<rect x="734.7" y="857.3" width="59.1" height="6.0" fill="#fffbb9"/>
<rect x="734.7" y="863.0" width="59.1" height="8.9" fill="#e0f3f7"/>
<rect x="734.7" y="871.6" width="59.1" height="7.9" fill="#f2fad7"/>
<rect x="734.7" y="879.2" width="59.1" height="7.9" fill="#e0f3f7"/>
<rect x="734.7" y="886.8" width="59.1" height="8.9" fill="#afd3e6"/>
<rect x="734.7" y="895.4" width="59.1" height="5.1" fill="#95c2dc"/>
<rect x="734.7" y="900.1" width="59.1" height="7.9" fill="#f2fad7"/>
<rect x="734.7" y="907.7" width="59.1" height="16.5" fill="#afd3e6"/>
<rect x="734.7" y="923.9" width="59.1" height="8.9" fill="#e0f3f7"/>
<rect x="734.7" y="932.5" width="59.1" height="11.7" fill="#fffbb9"/>
<rect x="734.7" y="943.9" width="59.1" height="9.8" fill="#feeca3"/>
<rect x="734.7" y="953.4" width="59.1" height="7.0" fill="#f2fad7"/>
<rect x="734.7" y="960.1" width="59.1" height="8.9" fill="#e0f3f7"/>
<rect x="734.7" y="968.6" width="59.1" height="16.7" fill="#fffbb9"/>
<rect x="793.5" y="745.0" width="59.1" height="7.9" fill="#afd3e6"/>
<rect x="793.5" y="752.6" width="59.1" height="8.9" fill="#d0e9f2"/>
<rect x="793.5" y="761.2" width="59.1" height="6.0" fill="#6e9dc9"/>
<rect x="793.5" y="766.9" width="59.1" height="24.1" fill="#e0f3f7"/>
<rect x="793.5" y="790.7" width="59.1" height="15.5" fill="#fffbb9"/>
<rect x="793.5" y="805.9" width="59.1" height="7.0" fill="#e0f3f7"/>
<rect x="793.5" y="812.6" width="59.1" height="7.0" fill="#afd3e6"/>
<rect x="793.5" y="819.2" width="59.1" height="7.9" fill="#e0f3f7"/>
<rect x="793.5" y="826.8" width="59.1" height="7.9" fill="#d9d9d9"/>
<rect x="793.5" y="834.5" width="59.1" height="7.9" fill="#f2fad7"/>
<rect x="793.5" y="842.1" width="59.1" height="9.8" fill="#fffbb9"/>
<rect x="793.5" y="851.6" width="59.1" height="11.7" fill="#feeca3"/>
<rect x="793.5" y="863.0" width="59.1" height="15.5" fill="#e0f3f7"/>
<rect x="793.5" y="878.2" width="59.1" height="15.5" fill="#fffbb9"/>
<rect x="793.5" y="893.5" width="59.1" height="4.1" fill="#afd3e6"/>
<rect x="793.5" y="897.3" width="59.1" height="3.2" fill="#95c2dc"/>
<rect x="793.5" y="900.1" width="59.1" height="16.5" fill="#e0f3f7"/>
<rect x="793.5" y="916.3" width="59.1" height="7.9" fill="#feeca3"/>
<rect x="793.5" y="923.9" width="59.1" height="8.9" fill="#f2fad7"/>
<rect x="793.5" y="932.5" width="59.1" height="6.0" fill="#fffbb9"/>
<rect x="793.5" y="938.2" width="59.1" height="6.0" fill="#f2fad7"/>
<rect x="793.5" y="943.9" width="59.1" height="9.8" fill="#feeca3"/>
<rect x="793.5" y="953.4" width="59.1" height="7.0" fill="#fedc8d"/>
<rect x="793.5" y="960.1" width="59.1" height="8.9" fill="#feeca3"/>
<rect x="793.5" y="968.6" width="59.1" height="16.7" fill="#fffbb9"/>
<rect x="852.3" y="745.0" width="60.0" height="16.5" fill="#95c2dc"/>
<rect x="852.3" y="761.2" width="60.0" height="6.0" fill="#feeca3"/>
<rect x="852.3" y="766.9" width="60.0" height="7.0" fill="#fffbb9"/>
<rect x="852.3" y="773.5" width="60.0" height="2.2" fill="#fdc07b"/>
<rect x="852.3" y="775.5" width="60.0" height="22.2" fill="#e95d3f"/>
<rect x="852.3" y="797.3" width="60.0" height="3.2" fill="#fdc07b"/>
<rect x="852.3" y="800.2" width="60.0" height="6.0" fill="#fedc8d"/>
<rect x="852.3" y="805.9" width="60.0" height="7.0" fill="#f98656"/>
<rect x="852.3" y="812.6" width="60.0" height="7.9" fill="#fc9e64"/>
<rect x="852.3" y="820.2" width="60.0" height="7.0" fill="#fdc07b"/>
<rect x="852.3" y="826.8" width="60.0" height="7.9" fill="#d9d9d9"/>
<rect x="852.3" y="834.5" width="60.0" height="7.9" fill="#fecd83"/>
<rect x="852.3" y="842.1" width="60.0" height="7.0" fill="#fedc8d"/>
<rect x="852.3" y="848.7" width="60.0" height="3.2" fill="#fdc07b"/>
<rect x="852.3" y="851.6" width="60.0" height="6.0" fill="#fc9e64"/>
<rect x="852.3" y="857.3" width="60.0" height="15.5" fill="#fedc8d"/>
<rect x="852.3" y="872.5" width="60.0" height="14.6" fill="#fdc07b"/>
<rect x="852.3" y="886.8" width="60.0" height="7.0" fill="#f98656"/>
<rect x="852.3" y="893.5" width="60.0" height="3.2" fill="#fdc07b"/>
<rect x="852.3" y="896.3" width="60.0" height="11.7" fill="#fedc8d"/>
<rect x="852.3" y="907.7" width="60.0" height="7.9" fill="#f98656"/>
<rect x="852.3" y="915.3" width="60.0" height="2.2" fill="#fdc07b"/>
<rect x="852.3" y="917.2" width="60.0" height="7.0" fill="#e0f3f7"/>
<rect x="852.3" y="923.9" width="60.0" height="8.9" fill="#fffbb9"/>
<rect x="852.3" y="932.5" width="60.0" height="6.0" fill="#d0e9f2"/>
<rect x="852.3" y="938.2" width="60.0" height="6.0" fill="#feeca3"/>
<rect x="852.3" y="943.9" width="60.0" height="15.5" fill="#fc9e64"/>
<rect x="852.3" y="959.1" width="60.0" height="3.2" fill="#fdc07b"/>
<rect x="852.3" y="962.0" width="60.0" height="7.0" fill="#feeca3"/>
<rect x="852.3" y="968.6" width="60.0" height="16.7" fill="#fedc8d"/>
<rect x="912.0" y="745.0" width="60.9" height="7.9" fill="#afd3e6"/>
<rect x="912.0" y="752.6" width="60.9" height="8.9" fill="#f2fad7"/>
<rect x="912.0" y="761.2" width="60.9" height="6.0" fill="#feeca3"/>
<rect x="912.0" y="766.9" width="60.9" height="7.0" fill="#f2fad7"/>
<rect x="912.0" y="773.5" width="60.9" height="2.2" fill="#fdc07b"/>
<rect x="912.0" y="775.5" width="60.9" height="7.0" fill="#d73027"/>
<rect x="912.0" y="782.1" width="60.9" height="8.9" fill="#e95d3f"/>
<rect x="912.0" y="790.7" width="60.9" height="7.0" fill="#f98656"/>
<rect x="912.0" y="797.3" width="60.9" height="8.9" fill="#fdc07b"/>
<rect x="912.0" y="805.9" width="60.9" height="21.2" fill="#fedc8d"/>
<rect x="912.0" y="826.8" width="60.9" height="15.5" fill="#fffbb9"/>
<rect x="912.0" y="842.1" width="60.9" height="9.8" fill="#fdc07b"/>
<rect x="912.0" y="851.6" width="60.9" height="35.5" fill="#feeca3"/>
<rect x="912.0" y="886.8" width="60.9" height="7.0" fill="#fdc07b"/>
<rect x="912.0" y="893.5" width="60.9" height="3.2" fill="#feeca3"/>
<rect x="912.0" y="896.3" width="60.9" height="4.1" fill="#fffbb9"/>
<rect x="912.0" y="900.1" width="60.9" height="7.9" fill="#fdc07b"/>
<rect x="912.0" y="907.7" width="60.9" height="16.5" fill="#fedc8d"/>
<rect x="912.0" y="923.9" width="60.9" height="8.9" fill="#fffbb9"/>
<rect x="912.0" y="932.5" width="60.9" height="6.0" fill="#d0e9f2"/>
<rect x="912.0" y="938.2" width="60.9" height="15.5" fill="#e0f3f7"/>
<rect x="912.0" y="953.4" width="60.9" height="7.0" fill="#feeca3"/>
<rect x="912.0" y="960.1" width="60.9" height="23.1" fill="#feeca3"/>
<rect x="912.0" y="982.9" width="60.9" height="2.4" fill="#f98656"/>
<rect x="265.2" y="985.0" width="58.4" height="5.1" fill="#fedc8d"/>
<rect x="265.2" y="989.8" width="58.4" height="8.9" fill="#fffbb9"/>
<rect x="265.2" y="998.3" width="58.4" height="6.0" fill="#feeca3"/>
<rect x="265.2" y="1004.0" width="58.4" height="9.8" fill="#f2fad7"/>
<rect x="265.2" y="1013.5" width="58.4" height="7.0" fill="#e0f3f7"/>
<rect x="265.2" y="1020.2" width="58.4" height="21.2" fill="#f2fad7"/>
<rect x="265.2" y="1041.1" width="58.4" height="2.2" fill="#fdc07b"/>
<rect x="265.2" y="1043.0" width="58.4" height="7.0" fill="#e95d3f"/>
<rect x="265.2" y="1049.7" width="58.4" height="7.9" fill="#fffbb9"/>
<rect x="265.2" y="1057.3" width="58.4" height="7.9" fill="#feeca3"/>
<rect x="265.2" y="1064.9" width="58.4" height="7.9" fill="#fedc8d"/>
<rect x="265.2" y="1072.5" width="58.4" height="13.6" fill="#feeca3"/>
<rect x="265.2" y="1085.9" width="58.4" height="8.9" fill="#f2fad7"/>
<rect x="265.2" y="1094.4" width="58.4" height="7.9" fill="#f2fad7"/>
<rect x="265.2" y="1102.0" width="58.4" height="7.9" fill="#feeca3"/>
<rect x="265.2" y="1109.7" width="58.4" height="8.9" fill="#95c2dc"/>
<rect x="265.2" y="1118.2" width="58.4" height="6.0" fill="#95c2dc"/>
<rect x="265.2" y="1123.9" width="58.4" height="22.2" fill="#afd3e6"/>
<rect x="265.2" y="1145.8" width="58.4" height="8.9" fill="#afd3e6"/>
<rect x="265.2" y="1154.4" width="58.4" height="7.0" fill="#e0f3f7"/>
<rect x="265.2" y="1161.0" width="58.4" height="6.0" fill="#f2fad7"/>
<rect x="265.2" y="1166.8" width="58.4" height="8.9" fill="#fffbb9"/>
<rect x="265.2" y="1175.3" width="58.4" height="16.5" fill="#f2fad7"/>
<rect x="265.2" y="1191.5" width="58.4" height="7.9" fill="#d0e9f2"/>
<rect x="265.2" y="1199.1" width="58.4" height="7.0" fill="#e0f3f7"/>
<rect x="265.2" y="1205.8" width="58.4" height="19.5" fill="#feeca3"/>
<rect x="323.3" y="985.0" width="60.4" height="10.8" fill="#e0f3f7"/>
<rect x="323.3" y="995.5" width="60.4" height="8.9" fill="#fffbb9"/>
<rect x="323.3" y="1004.0" width="60.4" height="9.8" fill="#afd3e6"/>
<rect x="323.3" y="1013.5" width="60.4" height="7.0" fill="#95c2dc"/>
<rect x="323.3" y="1020.2" width="60.4" height="8.9" fill="#6e9dc9"/>
<rect x="323.3" y="1028.8" width="60.4" height="6.0" fill="#afd3e6"/>
<rect x="323.3" y="1034.5" width="60.4" height="7.0" fill="#afd3e6"/>
<rect x="323.3" y="1041.1" width="60.4" height="8.9" fill="#e0f3f7"/>
<rect x="323.3" y="1049.7" width="60.4" height="7.0" fill="#fffbb9"/>
<rect x="323.3" y="1056.4" width="60.4" height="8.9" fill="#d0e9f2"/>
<rect x="323.3" y="1064.9" width="60.4" height="7.0" fill="#fffbb9"/>
<rect x="323.3" y="1071.6" width="60.4" height="8.9" fill="#afd3e6"/>
<rect x="323.3" y="1080.2" width="60.4" height="7.9" fill="#e0f3f7"/>
<rect x="323.3" y="1087.8" width="60.4" height="7.0" fill="#f2fad7"/>
<rect x="323.3" y="1094.4" width="60.4" height="7.0" fill="#afd3e6"/>
<rect x="323.3" y="1101.1" width="60.4" height="8.9" fill="#d0e9f2"/>
<rect x="323.3" y="1109.7" width="60.4" height="8.9" fill="#95c2dc"/>
<rect x="323.3" y="1118.2" width="60.4" height="6.0" fill="#6e9dc9"/>
<rect x="323.3" y="1123.9" width="60.4" height="13.6" fill="#d0e9f2"/>
<rect x="323.3" y="1137.3" width="60.4" height="8.9" fill="#afd3e6"/>
<rect x="323.3" y="1145.8" width="60.4" height="8.9" fill="#6e9dc9"/>
<rect x="323.3" y="1154.4" width="60.4" height="7.0" fill="#95c2dc"/>
<rect x="323.3" y="1161.0" width="60.4" height="6.0" fill="#d0e9f2"/>
<rect x="323.3" y="1166.8" width="60.4" height="8.9" fill="#afd3e6"/>
<rect x="323.3" y="1175.3" width="60.4" height="7.9" fill="#fffbb9"/>
<rect x="323.3" y="1182.9" width="60.4" height="8.9" fill="#d0e9f2"/>
<rect x="323.3" y="1191.5" width="60.4" height="7.9" fill="#f2fad7"/>
<rect x="323.3" y="1199.1" width="60.4" height="13.6" fill="#afd3e6"/>
<rect x="323.3" y="1212.4" width="60.4" height="12.9" fill="#d0e9f2"/>
<rect x="383.4" y="985.0" width="57.5" height="5.1" fill="#afd3e6"/>
<rect x="383.4" y="989.8" width="57.5" height="8.9" fill="#6e9dc9"/>
<rect x="383.4" y="998.3" width="57.5" height="6.0" fill="#95c2dc"/>
<rect x="383.4" y="1004.0" width="57.5" height="9.8" fill="#afd3e6"/>
<rect x="383.4" y="1013.5" width="57.5" height="7.0" fill="#4e7eb9"/>
<rect x="383.4" y="1020.2" width="57.5" height="8.9" fill="#6e9dc9"/>
<rect x="383.4" y="1028.8" width="57.5" height="6.0" fill="#afd3e6"/>
<rect x="383.4" y="1034.5" width="57.5" height="15.5" fill="#95c2dc"/>
<rect x="383.4" y="1049.7" width="57.5" height="7.0" fill="#4e7eb9"/>
<rect x="383.4" y="1056.4" width="57.5" height="8.9" fill="#95c2dc"/>
<rect x="383.4" y="1064.9" width="57.5" height="15.5" fill="#afd3e6"/>
<rect x="383.4" y="1080.2" width="57.5" height="14.6" fill="#95c2dc"/>
<rect x="383.4" y="1094.4" width="57.5" height="7.0" fill="#d0e9f2"/>
<rect x="383.4" y="1101.1" width="57.5" height="8.9" fill="#6e9dc9"/>
<rect x="383.4" y="1109.7" width="57.5" height="21.2" fill="#6e9dc9"/>
<rect x="383.4" y="1130.6" width="57.5" height="8.9" fill="#6e9dc9"/>
<rect x="383.4" y="1139.2" width="57.5" height="15.5" fill="#6e9dc9"/>
<rect x="383.4" y="1154.4" width="57.5" height="12.7" fill="#95c2dc"/>
<rect x="383.4" y="1166.8" width="57.5" height="8.9" fill="#6e9dc9"/>
<rect x="383.4" y="1175.3" width="57.5" height="7.9" fill="#4e7eb9"/>
<rect x="383.4" y="1182.9" width="57.5" height="8.9" fill="#6e9dc9"/>
<rect x="383.4" y="1191.5" width="57.5" height="7.9" fill="#4e7eb9"/>
<rect x="383.4" y="1199.1" width="57.5" height="7.0" fill="#afd3e6"/>
<rect x="383.4" y="1205.8" width="57.5" height="7.0" fill="#fffbb9"/>
<rect x="383.4" y="1212.4" width="57.5" height="7.0" fill="#feeca3"/>
<rect x="383.4" y="1219.1" width="57.5" height="6.2" fill="#afd3e6"/>
<rect x="440.6" y="985.0" width="60.7" height="5.1" fill="#e0f3f7"/>
<rect x="440.6" y="989.8" width="60.7" height="15.5" fill="#d0e9f2"/>
<rect x="440.6" y="1005.0" width="60.7" height="8.9" fill="#6e9dc9"/>
<rect x="440.6" y="1013.5" width="60.7" height="7.0" fill="#95c2dc"/>
<rect x="440.6" y="1020.2" width="60.7" height="21.2" fill="#95c2dc"/>
<rect x="440.6" y="1041.1" width="60.7" height="8.9" fill="#f2fad7"/>
<rect x="440.6" y="1049.7" width="60.7" height="7.9" fill="#afd3e6"/>
<rect x="440.6" y="1057.3" width="60.7" height="7.9" fill="#f2fad7"/>
<rect x="440.6" y="1064.9" width="60.7" height="7.9" fill="#fffbb9"/>
<rect x="440.6" y="1072.5" width="60.7" height="13.6" fill="#f2fad7"/>
<rect x="440.6" y="1085.9" width="60.7" height="15.5" fill="#e0f3f7"/>
<rect x="440.6" y="1101.1" width="60.7" height="8.9" fill="#fffbb9"/>
<rect x="440.6" y="1109.7" width="60.7" height="8.9" fill="#6e9dc9"/>
<rect x="440.6" y="1118.2" width="60.7" height="6.0" fill="#95c2dc"/>
<rect x="440.6" y="1123.9" width="60.7" height="7.0" fill="#95c2dc"/>
<rect x="440.6" y="1130.6" width="60.7" height="8.9" fill="#afd3e6"/>
<rect x="440.6" y="1139.2" width="60.7" height="7.0" fill="#95c2dc"/>
<rect x="440.6" y="1145.8" width="60.7" height="8.9" fill="#6e9dc9"/>
<rect x="440.6" y="1154.4" width="60.7" height="7.0" fill="#95c2dc"/>
<rect x="440.6" y="1161.0" width="60.7" height="6.0" fill="#afd3e6"/>
<rect x="440.6" y="1166.8" width="60.7" height="8.9" fill="#f2fad7"/>
<rect x="440.6" y="1175.3" width="60.7" height="16.5" fill="#d0e9f2"/>
<rect x="440.6" y="1191.5" width="60.7" height="7.9" fill="#e0f3f7"/>
<rect x="440.6" y="1199.1" width="60.7" height="7.0" fill="#f2fad7"/>
<rect x="440.6" y="1205.8" width="60.7" height="7.0" fill="#f2fad7"/>
<rect x="440.6" y="1212.4" width="60.7" height="12.9" fill="#fffbb9"/>
<rect x="501.0" y="985.0" width="58.4" height="5.1" fill="#afd3e6"/>
<rect x="501.0" y="989.8" width="58.4" height="14.6" fill="#afd3e6"/>
<rect x="501.0" y="1004.0" width="58.4" height="16.5" fill="#6e9dc9"/>
<rect x="501.0" y="1020.2" width="58.4" height="21.2" fill="#6e9dc9"/>
<rect x="501.0" y="1041.1" width="58.4" height="8.9" fill="#afd3e6"/>
<rect x="501.0" y="1049.7" width="58.4" height="7.0" fill="#6e9dc9"/>
<rect x="501.0" y="1056.4" width="58.4" height="8.9" fill="#afd3e6"/>
<rect x="501.0" y="1064.9" width="58.4" height="7.9" fill="#e0f3f7"/>
<rect x="501.0" y="1072.5" width="58.4" height="7.9" fill="#afd3e6"/>
<rect x="501.0" y="1080.2" width="58.4" height="6.0" fill="#d0e9f2"/>
<rect x="501.0" y="1085.9" width="58.4" height="15.5" fill="#afd3e6"/>
<rect x="501.0" y="1101.1" width="58.4" height="8.9" fill="#afd3e6"/>
<rect x="501.0" y="1109.7" width="58.4" height="12.7" fill="#6e9dc9"/>
<rect x="501.0" y="1122.0" width="58.4" height="8.9" fill="#6e9dc9"/>
<rect x="501.0" y="1130.6" width="58.4" height="8.9" fill="#6e9dc9"/>
<rect x="501.0" y="1139.2" width="58.4" height="15.5" fill="#6e9dc9"/>
<rect x="501.0" y="1154.4" width="58.4" height="12.7" fill="#95c2dc"/>
<rect x="501.0" y="1166.8" width="58.4" height="8.9" fill="#95c2dc"/>
<rect x="501.0" y="1175.3" width="58.4" height="21.2" fill="#95c2dc"/>
<rect x="501.0" y="1196.3" width="58.4" height="15.5" fill="#afd3e6"/>
<rect x="501.0" y="1211.5" width="58.4" height="7.0" fill="#e0f3f7"/>
<rect x="501.0" y="1218.1" width="58.4" height="7.2" fill="#afd3e6"/>
<rect x="559.1" y="985.0" width="58.8" height="5.1" fill="#afd3e6"/>
<rect x="559.1" y="989.8" width="58.8" height="14.6" fill="#95c2dc"/>
<rect x="559.1" y="1004.0" width="58.8" height="9.8" fill="#6e9dc9"/>
<rect x="559.1" y="1013.5" width="58.8" height="15.5" fill="#95c2dc"/>
<rect x="559.1" y="1028.8" width="58.8" height="12.7" fill="#95c2dc"/>
<rect x="559.1" y="1041.1" width="58.8" height="8.9" fill="#e0f3f7"/>
<rect x="559.1" y="1049.7" width="58.8" height="7.0" fill="#6e9dc9"/>
<rect x="559.1" y="1056.4" width="58.8" height="8.9" fill="#e0f3f7"/>
<rect x="559.1" y="1064.9" width="58.8" height="7.9" fill="#f2fad7"/>
<rect x="559.1" y="1072.5" width="58.8" height="13.6" fill="#e0f3f7"/>
<rect x="559.1" y="1085.9" width="58.8" height="15.5" fill="#d0e9f2"/>
<rect x="559.1" y="1101.1" width="58.8" height="8.9" fill="#f2fad7"/>
<rect x="559.1" y="1109.7" width="58.8" height="21.2" fill="#6e9dc9"/>
<rect x="559.1" y="1130.6" width="58.8" height="8.9" fill="#6e9dc9"/>
<rect x="559.1" y="1139.2" width="58.8" height="15.5" fill="#6e9dc9"/>
<rect x="559.1" y="1154.4" width="58.8" height="7.0" fill="#afd3e6"/>
<rect x="559.1" y="1161.0" width="58.8" height="14.6" fill="#95c2dc"/>
<rect x="559.1" y="1175.3" width="58.8" height="21.2" fill="#95c2dc"/>
<rect x="559.1" y="1196.3" width="58.8" height="15.5" fill="#d0e9f2"/>
<rect x="559.1" y="1211.5" width="58.8" height="7.0" fill="#fffbb9"/>
<rect x="559.1" y="1218.1" width="58.8" height="7.2" fill="#e0f3f7"/>
<rect x="617.6" y="985.0" width="58.9" height="5.1" fill="#afd3e6"/>
<rect x="617.6" y="989.8" width="58.9" height="8.9" fill="#afd3e6"/>
<rect x="617.6" y="998.3" width="58.9" height="6.0" fill="#95c2dc"/>
<rect x="617.6" y="1004.0" width="58.9" height="9.8" fill="#4e7eb9"/>
<rect x="617.6" y="1013.5" width="58.9" height="15.5" fill="#95c2dc"/>
<rect x="617.6" y="1028.8" width="58.9" height="12.7" fill="#95c2dc"/>
<rect x="617.6" y="1041.1" width="58.9" height="8.9" fill="#4e7eb9"/>
<rect x="617.6" y="1049.7" width="58.9" height="7.0" fill="#6e9dc9"/>
<rect x="617.6" y="1056.4" width="58.9" height="8.9" fill="#f2fad7"/>
<rect x="617.6" y="1064.9" width="58.9" height="7.9" fill="#fffbb9"/>
<rect x="617.6" y="1072.5" width="58.9" height="7.9" fill="#f2fad7"/>
<rect x="617.6" y="1080.2" width="58.9" height="7.0" fill="#feeca3"/>
<rect x="617.6" y="1086.8" width="58.9" height="7.9" fill="#feeca3"/>
<rect x="617.6" y="1094.4" width="58.9" height="37.4" fill="#fffbb9"/>
<rect x="617.6" y="1131.5" width="58.9" height="7.9" fill="#feeca3"/>
<rect x="617.6" y="1139.2" width="58.9" height="7.0" fill="#f2fad7"/>
<rect x="617.6" y="1145.8" width="58.9" height="8.9" fill="#e0f3f7"/>
<rect x="617.6" y="1154.4" width="58.9" height="21.2" fill="#f2fad7"/>
<rect x="617.6" y="1175.3" width="58.9" height="7.9" fill="#fffbb9"/>
<rect x="617.6" y="1182.9" width="58.9" height="8.9" fill="#e0f3f7"/>
<rect x="617.6" y="1191.5" width="58.9" height="7.0" fill="#fedc8d"/>
<rect x="617.6" y="1198.2" width="58.9" height="7.9" fill="#fdc07b"/>
<rect x="617.6" y="1205.8" width="58.9" height="7.0" fill="#f2fad7"/>
<rect x="617.6" y="1212.4" width="58.9" height="12.9" fill="#feeca3"/>
<rect x="676.2" y="985.0" width="58.8" height="4.1" fill="#afd3e6"/>
<rect x="676.2" y="988.8" width="58.8" height="7.0" fill="#d0e9f2"/>
<rect x="676.2" y="995.5" width="58.8" height="8.9" fill="#afd3e6"/>
<rect x="676.2" y="1004.0" width="58.8" height="9.8" fill="#f2fad7"/>
<rect x="676.2" y="1013.5" width="58.8" height="15.5" fill="#d0e9f2"/>
<rect x="676.2" y="1028.8" width="58.8" height="12.7" fill="#afd3e6"/>
<rect x="676.2" y="1041.1" width="58.8" height="15.5" fill="#f2fad7"/>
<rect x="676.2" y="1056.4" width="58.8" height="23.1" fill="#e0f3f7"/>
<rect x="676.2" y="1079.2" width="58.8" height="7.0" fill="#95c2dc"/>
<rect x="676.2" y="1085.9" width="58.8" height="24.1" fill="#afd3e6"/>
<rect x="676.2" y="1109.7" width="58.8" height="21.2" fill="#afd3e6"/>
<rect x="676.2" y="1130.6" width="58.8" height="7.0" fill="#6e9dc9"/>
<rect x="676.2" y="1137.3" width="58.8" height="8.9" fill="#d0e9f2"/>
<rect x="676.2" y="1145.8" width="58.8" height="14.6" fill="#e0f3f7"/>
<rect x="676.2" y="1160.1" width="58.8" height="7.0" fill="#fdc07b"/>
<rect x="676.2" y="1166.8" width="58.8" height="8.9" fill="#feeca3"/>
<rect x="676.2" y="1175.3" width="58.8" height="7.9" fill="#feeca3"/>
<rect x="676.2" y="1182.9" width="58.8" height="8.9" fill="#e0f3f7"/>
<rect x="676.2" y="1191.5" width="58.8" height="7.0" fill="#fffbb9"/>
<rect x="676.2" y="1198.2" width="58.8" height="7.9" fill="#afd3e6"/>
<rect x="676.2" y="1205.8" width="58.8" height="7.0" fill="#6e9dc9"/>
<rect x="676.2" y="1212.4" width="58.8" height="7.0" fill="#95c2dc"/>
<rect x="676.2" y="1219.1" width="58.8" height="6.2" fill="#afd3e6"/>
<rect x="734.7" y="985.0" width="59.1" height="5.1" fill="#f2fad7"/>
<rect x="734.7" y="989.8" width="59.1" height="23.1" fill="#d0e9f2"/>
<rect x="734.7" y="1012.6" width="59.1" height="16.5" fill="#fffbb9"/>
<rect x="734.7" y="1028.8" width="59.1" height="21.2" fill="#feeca3"/>
<rect x="734.7" y="1049.7" width="59.1" height="15.5" fill="#feeca3"/>
<rect x="734.7" y="1064.9" width="59.1" height="8.9" fill="#fffbb9"/>
<rect x="734.7" y="1073.5" width="59.1" height="12.7" fill="#feeca3"/>
<rect x="734.7" y="1085.9" width="59.1" height="15.5" fill="#fedc8d"/>
<rect x="734.7" y="1101.1" width="59.1" height="8.9" fill="#fc9e64"/>
<rect x="734.7" y="1109.7" width="59.1" height="12.7" fill="#fedc8d"/>
<rect x="734.7" y="1122.0" width="59.1" height="8.9" fill="#f2fad7"/>
<rect x="734.7" y="1130.6" width="59.1" height="15.5" fill="#fffbb9"/>
<rect x="734.7" y="1145.8" width="59.1" height="8.9" fill="#fdc07b"/>
<rect x="734.7" y="1154.4" width="59.1" height="7.0" fill="#fc9e64"/>
<rect x="734.7" y="1161.0" width="59.1" height="6.0" fill="#feeca3"/>
<rect x="734.7" y="1166.8" width="59.1" height="8.9" fill="#feeca3"/>
<rect x="734.7" y="1175.3" width="59.1" height="16.5" fill="#f2fad7"/>
<rect x="734.7" y="1191.5" width="59.1" height="7.9" fill="#e0f3f7"/>
<rect x="734.7" y="1199.1" width="59.1" height="7.0" fill="#fffbb9"/>
<rect x="734.7" y="1205.8" width="59.1" height="7.0" fill="#feeca3"/>
<rect x="734.7" y="1212.4" width="59.1" height="6.0" fill="#f98656"/>
<rect x="734.7" y="1218.1" width="59.1" height="7.2" fill="#fedc8d"/>
<rect x="793.5" y="985.0" width="59.1" height="5.1" fill="#fedc8d"/>
<rect x="793.5" y="989.8" width="59.1" height="14.6" fill="#fffbb9"/>
<rect x="793.5" y="1004.0" width="59.1" height="9.8" fill="#feeca3"/>
<rect x="793.5" y="1013.5" width="59.1" height="7.0" fill="#fffbb9"/>
<rect x="793.5" y="1020.2" width="59.1" height="21.2" fill="#feeca3"/>
<rect x="793.5" y="1041.1" width="59.1" height="8.9" fill="#feeca3"/>
<rect x="793.5" y="1049.7" width="59.1" height="7.0" fill="#fedc8d"/>
<rect x="793.5" y="1056.4" width="59.1" height="8.9" fill="#f98656"/>
<rect x="793.5" y="1064.9" width="59.1" height="7.9" fill="#fedc8d"/>
<rect x="793.5" y="1072.5" width="59.1" height="7.9" fill="#fecd83"/>
<rect x="793.5" y="1080.2" width="59.1" height="6.0" fill="#fedc8d"/>
<rect x="793.5" y="1085.9" width="59.1" height="25.0" fill="#fc9e64"/>
<rect x="793.5" y="1110.6" width="59.1" height="7.9" fill="#fdc07b"/>
<rect x="793.5" y="1118.2" width="59.1" height="21.2" fill="#feeca3"/>
<rect x="793.5" y="1139.2" width="59.1" height="7.0" fill="#fedc8d"/>
<rect x="793.5" y="1145.8" width="59.1" height="15.5" fill="#fdc07b"/>
<rect x="793.5" y="1161.0" width="59.1" height="14.6" fill="#feeca3"/>
<rect x="793.5" y="1175.3" width="59.1" height="7.9" fill="#fffbb9"/>
<rect x="793.5" y="1182.9" width="59.1" height="8.9" fill="#afd3e6"/>
<rect x="793.5" y="1191.5" width="59.1" height="7.0" fill="#d0e9f2"/>
<rect x="793.5" y="1198.2" width="59.1" height="7.9" fill="#feeca3"/>
<rect x="793.5" y="1205.8" width="59.1" height="7.0" fill="#f2fad7"/>
<rect x="793.5" y="1212.4" width="59.1" height="8.9" fill="#fc9e64"/>
<rect x="793.5" y="1221.0" width="59.1" height="4.3" fill="#f98656"/>
<rect x="852.3" y="985.0" width="60.0" height="5.1" fill="#fffbb9"/>
<rect x="852.3" y="989.8" width="60.0" height="14.6" fill="#fc9e64"/>
<rect x="852.3" y="1004.0" width="60.0" height="16.5" fill="#feeca3"/>
<rect x="852.3" y="1020.2" width="60.0" height="8.9" fill="#fdc07b"/>
<rect x="852.3" y="1028.8" width="60.0" height="12.7" fill="#fedc8d"/>
<rect x="852.3" y="1041.1" width="60.0" height="8.9" fill="#e95d3f"/>
<rect x="852.3" y="1049.7" width="60.0" height="7.0" fill="#f98656"/>
<rect x="852.3" y="1056.4" width="60.0" height="8.9" fill="#d73027"/>
<rect x="852.3" y="1064.9" width="60.0" height="8.9" fill="#fc9e64"/>
<rect x="852.3" y="1073.5" width="60.0" height="12.7" fill="#feeca3"/>
<rect x="852.3" y="1085.9" width="60.0" height="9.8" fill="#fedc8d"/>
<rect x="852.3" y="1095.4" width="60.0" height="14.6" fill="#fc9e64"/>
<rect x="852.3" y="1109.7" width="60.0" height="12.7" fill="#f98656"/>
<rect x="852.3" y="1122.0" width="60.0" height="8.9" fill="#feeca3"/>
<rect x="852.3" y="1130.6" width="60.0" height="8.9" fill="#fedc8d"/>
<rect x="852.3" y="1139.2" width="60.0" height="7.0" fill="#f98656"/>
<rect x="852.3" y="1145.8" width="60.0" height="8.9" fill="#fc9e64"/>
<rect x="852.3" y="1154.4" width="60.0" height="7.0" fill="#f98656"/>
<rect x="852.3" y="1161.0" width="60.0" height="6.0" fill="#fdc07b"/>
<rect x="852.3" y="1166.8" width="60.0" height="8.9" fill="#fedc8d"/>
<rect x="852.3" y="1175.3" width="60.0" height="7.9" fill="#fc9e64"/>
<rect x="852.3" y="1182.9" width="60.0" height="8.9" fill="#f98656"/>
<rect x="852.3" y="1191.5" width="60.0" height="6.0" fill="#fc9e64"/>
<rect x="852.3" y="1197.2" width="60.0" height="3.2" fill="#afd3e6"/>
<rect x="852.3" y="1200.1" width="60.0" height="6.0" fill="#95c2dc"/>
<rect x="852.3" y="1205.8" width="60.0" height="7.0" fill="#e0f3f7"/>
<rect x="852.3" y="1212.4" width="60.0" height="12.9" fill="#afd3e6"/>
<rect x="912.0" y="985.0" width="60.9" height="5.1" fill="#f98656"/>
<rect x="912.0" y="989.8" width="60.9" height="14.6" fill="#f98656"/>
<rect x="912.0" y="1004.0" width="60.9" height="9.8" fill="#fc9e64"/>
<rect x="912.0" y="1013.5" width="60.9" height="7.0" fill="#fedc8d"/>
<rect x="912.0" y="1020.2" width="60.9" height="14.6" fill="#fdc07b"/>
<rect x="912.0" y="1034.5" width="60.9" height="7.0" fill="#f98656"/>
<rect x="912.0" y="1041.1" width="60.9" height="8.9" fill="#feeca3"/>
<rect x="912.0" y="1049.7" width="60.9" height="7.0" fill="#fffbb9"/>
<rect x="912.0" y="1056.4" width="60.9" height="24.1" fill="#feeca3"/>
<rect x="912.0" y="1080.2" width="60.9" height="6.0" fill="#fffbb9"/>
<rect x="912.0" y="1085.9" width="60.9" height="8.9" fill="#fc9e64"/>
<rect x="912.0" y="1094.4" width="60.9" height="24.1" fill="#feeca3"/>
<rect x="912.0" y="1118.2" width="60.9" height="19.3" fill="#feeca3"/>
<rect x="912.0" y="1137.3" width="60.9" height="3.2" fill="#fdc07b"/>
<rect x="912.0" y="1140.1" width="60.9" height="6.0" fill="#e95d3f"/>
<rect x="912.0" y="1145.8" width="60.9" height="8.9" fill="#fedc8d"/>
<rect x="912.0" y="1154.4" width="60.9" height="7.0" fill="#fc9e64"/>
<rect x="912.0" y="1161.0" width="60.9" height="6.0" fill="#f98656"/>
<rect x="912.0" y="1166.8" width="60.9" height="16.5" fill="#feeca3"/>
<rect x="912.0" y="1182.9" width="60.9" height="8.9" fill="#e95d3f"/>
<rect x="912.0" y="1191.5" width="60.9" height="6.0" fill="#fc9e64"/>
<rect x="912.0" y="1197.2" width="60.9" height="3.2" fill="#fdc07b"/>
<rect x="912.0" y="1200.1" width="60.9" height="6.0" fill="#d0e9f2"/>
<rect x="912.0" y="1205.8" width="60.9" height="7.0" fill="#afd3e6"/>
<rect x="912.0" y="1212.4" width="60.9" height="12.9" fill="#f2fad7"/>
<rect x="265.2" y="1225.0" width="58.4" height="2.2" fill="#f2fad7"/>
<rect x="265.2" y="1226.9" width="58.4" height="15.5" fill="#feeca3"/>
<rect x="265.2" y="1242.1" width="58.4" height="30.8" fill="#fffbb9"/>
<rect x="265.2" y="1272.6" width="58.4" height="7.0" fill="#f2fad7"/>
<rect x="265.2" y="1279.2" width="58.4" height="7.9" fill="#feeca3"/>
<rect x="265.2" y="1286.9" width="58.4" height="22.2" fill="#fffbb9"/>
<rect x="265.2" y="1308.7" width="58.4" height="7.9" fill="#f2fad7"/>
<rect x="265.2" y="1316.4" width="58.4" height="16.5" fill="#fffbb9"/>
<rect x="265.2" y="1332.5" width="58.4" height="6.0" fill="#f2fad7"/>
<rect x="265.2" y="1338.2" width="58.4" height="7.0" fill="#fdc07b"/>
<rect x="265.2" y="1344.9" width="58.4" height="23.1" fill="#feeca3"/>
<rect x="265.2" y="1367.7" width="58.4" height="9.8" fill="#fecd83"/>
<rect x="265.2" y="1377.3" width="58.4" height="6.0" fill="#fc9e64"/>
<rect x="265.2" y="1383.0" width="58.4" height="7.0" fill="#e95d3f"/>
<rect x="265.2" y="1389.6" width="58.4" height="7.9" fill="#fc9e64"/>
<rect x="265.2" y="1397.2" width="58.4" height="7.0" fill="#f98656"/>
<rect x="265.2" y="1403.9" width="58.4" height="8.9" fill="#fedc8d"/>
<rect x="265.2" y="1412.5" width="58.4" height="7.9" fill="#d73027"/>
<rect x="265.2" y="1420.1" width="58.4" height="3.2" fill="#e95d3f"/>
<rect x="265.2" y="1422.9" width="58.4" height="6.0" fill="#fc9e64"/>
<rect x="265.2" y="1428.6" width="58.4" height="6.0" fill="#fffbb9"/>
<rect x="265.2" y="1434.4" width="58.4" height="7.9" fill="#fedc8d"/>
<rect x="265.2" y="1442.0" width="58.4" height="7.9" fill="#fecd83"/>
<rect x="265.2" y="1449.6" width="58.4" height="15.7" fill="#fedc8d"/>
<rect x="323.3" y="1225.0" width="60.4" height="3.2" fill="#e0f3f7"/>
<rect x="323.3" y="1227.9" width="60.4" height="7.0" fill="#afd3e6"/>
<rect x="323.3" y="1234.5" width="60.4" height="7.9" fill="#f2fad7"/>
<rect x="323.3" y="1242.1" width="60.4" height="8.9" fill="#95c2dc"/>
<rect x="323.3" y="1250.7" width="60.4" height="7.0" fill="#afd3e6"/>
<rect x="323.3" y="1257.4" width="60.4" height="6.0" fill="#d0e9f2"/>
<rect x="323.3" y="1263.1" width="60.4" height="16.5" fill="#f2fad7"/>
<rect x="323.3" y="1279.2" width="60.4" height="7.9" fill="#e0f3f7"/>
<rect x="323.3" y="1286.9" width="60.4" height="12.7" fill="#afd3e6"/>
<rect x="323.3" y="1299.2" width="60.4" height="3.2" fill="#e0f3f7"/>
<rect x="323.3" y="1302.1" width="60.4" height="7.0" fill="#fffbb9"/>
<rect x="323.3" y="1308.7" width="60.4" height="7.9" fill="#feeca3"/>
<rect x="323.3" y="1316.4" width="60.4" height="7.9" fill="#fffbb9"/>
<rect x="323.3" y="1324.0" width="60.4" height="8.9" fill="#f2fad7"/>
<rect x="323.3" y="1332.5" width="60.4" height="7.0" fill="#fffbb9"/>
<rect x="323.3" y="1339.2" width="60.4" height="6.0" fill="#f2fad7"/>
<rect x="323.3" y="1344.9" width="60.4" height="8.9" fill="#95c2dc"/>
<rect x="323.3" y="1353.5" width="60.4" height="7.0" fill="#d0e9f2"/>
<rect x="323.3" y="1360.1" width="60.4" height="7.9" fill="#fffbb9"/>
<rect x="323.3" y="1367.7" width="60.4" height="9.8" fill="#e0f3f7"/>
<rect x="323.3" y="1377.3" width="60.4" height="6.0" fill="#fffbb9"/>
<rect x="323.3" y="1383.0" width="60.4" height="14.6" fill="#f2fad7"/>
<rect x="323.3" y="1397.2" width="60.4" height="7.9" fill="#e0f3f7"/>
<rect x="323.3" y="1404.9" width="60.4" height="8.9" fill="#95c2dc"/>
<rect x="323.3" y="1413.4" width="60.4" height="7.9" fill="#e0f3f7"/>
<rect x="323.3" y="1421.0" width="60.4" height="7.9" fill="#d0e9f2"/>
<rect x="323.3" y="1428.6" width="60.4" height="6.0" fill="#e0f3f7"/>
<rect x="323.3" y="1434.4" width="60.4" height="30.9" fill="#fffbb9"/>
<rect x="383.4" y="1225.0" width="57.5" height="10.8" fill="#afd3e6"/>
<rect x="383.4" y="1235.5" width="57.5" height="7.0" fill="#95c2dc"/>
<rect x="383.4" y="1242.1" width="57.5" height="8.9" fill="#e0f3f7"/>
<rect x="383.4" y="1250.7" width="57.5" height="7.0" fill="#fffbb9"/>
<rect x="383.4" y="1257.4" width="57.5" height="15.5" fill="#d0e9f2"/>
<rect x="383.4" y="1272.6" width="57.5" height="7.0" fill="#e0f3f7"/>
<rect x="383.4" y="1279.2" width="57.5" height="16.5" fill="#fffbb9"/>
<rect x="383.4" y="1295.4" width="57.5" height="12.7" fill="#f2fad7"/>
<rect x="383.4" y="1307.8" width="57.5" height="25.0" fill="#afd3e6"/>
<rect x="383.4" y="1332.5" width="57.5" height="7.0" fill="#95c2dc"/>
<rect x="383.4" y="1339.2" width="57.5" height="6.0" fill="#6e9dc9"/>
<rect x="383.4" y="1344.9" width="57.5" height="8.9" fill="#6e9dc9"/>
<rect x="383.4" y="1353.5" width="57.5" height="14.6" fill="#4e7eb9"/>
<rect x="383.4" y="1367.7" width="57.5" height="9.8" fill="#6e9dc9"/>
<rect x="383.4" y="1377.3" width="57.5" height="6.0" fill="#95c2dc"/>
<rect x="383.4" y="1383.0" width="57.5" height="7.0" fill="#6e9dc9"/>
<rect x="383.4" y="1389.6" width="57.5" height="15.5" fill="#4e7eb9"/>
<rect x="383.4" y="1404.9" width="57.5" height="8.9" fill="#95c2dc"/>
<rect x="383.4" y="1413.4" width="57.5" height="7.0" fill="#d0e9f2"/>
<rect x="383.4" y="1420.1" width="57.5" height="8.9" fill="#6e9dc9"/>
<rect x="383.4" y="1428.6" width="57.5" height="6.0" fill="#afd3e6"/>
<rect x="383.4" y="1434.4" width="57.5" height="7.9" fill="#f2fad7"/>
<rect x="383.4" y="1442.0" width="57.5" height="23.3" fill="#95c2dc"/>
<rect x="440.6" y="1225.0" width="60.7" height="10.8" fill="#f2fad7"/>
<rect x="440.6" y="1235.5" width="60.7" height="7.0" fill="#d0e9f2"/>
<rect x="440.6" y="1242.1" width="60.7" height="15.5" fill="#afd3e6"/>
<rect x="440.6" y="1257.4" width="60.7" height="22.2" fill="#e0f3f7"/>
<rect x="440.6" y="1279.2" width="60.7" height="22.2" fill="#f2fad7"/>
<rect x="440.6" y="1301.1" width="60.7" height="7.9" fill="#e0f3f7"/>
<rect x="440.6" y="1308.7" width="60.7" height="7.9" fill="#f2fad7"/>
<rect x="440.6" y="1316.4" width="60.7" height="16.5" fill="#fffbb9"/>
<rect x="440.6" y="1332.5" width="60.7" height="12.7" fill="#e0f3f7"/>
<rect x="440.6" y="1344.9" width="60.7" height="8.9" fill="#95c2dc"/>
<rect x="440.6" y="1353.5" width="60.7" height="29.8" fill="#e0f3f7"/>
<rect x="440.6" y="1383.0" width="60.7" height="22.2" fill="#fffbb9"/>
<rect x="440.6" y="1404.9" width="60.7" height="8.9" fill="#e0f3f7"/>
<rect x="440.6" y="1413.4" width="60.7" height="15.5" fill="#fffbb9"/>
<rect x="440.6" y="1428.6" width="60.7" height="14.6" fill="#f2fad7"/>
<rect x="440.6" y="1442.9" width="60.7" height="7.0" fill="#feeca3"/>
<rect x="440.6" y="1449.6" width="60.7" height="7.9" fill="#f2fad7"/>
<rect x="440.6" y="1457.2" width="60.7" height="8.1" fill="#fffbb9"/>
<rect x="501.0" y="1225.0" width="58.4" height="10.8" fill="#afd3e6"/>
<rect x="501.0" y="1235.5" width="58.4" height="7.0" fill="#95c2dc"/>
<rect x="501.0" y="1242.1" width="58.4" height="15.5" fill="#95c2dc"/>
<rect x="501.0" y="1257.4" width="58.4" height="6.0" fill="#95c2dc"/>
<rect x="501.0" y="1263.1" width="58.4" height="8.9" fill="#afd3e6"/>
<rect x="501.0" y="1271.6" width="58.4" height="8.9" fill="#95c2dc"/>
<rect x="501.0" y="1280.2" width="58.4" height="7.0" fill="#afd3e6"/>
<rect x="501.0" y="1286.9" width="58.4" height="8.9" fill="#d0e9f2"/>
<rect x="501.0" y="1295.4" width="58.4" height="12.7" fill="#afd3e6"/>
<rect x="501.0" y="1307.8" width="58.4" height="8.9" fill="#95c2dc"/>
<rect x="501.0" y="1316.4" width="58.4" height="16.5" fill="#e0f3f7"/>
<rect x="501.0" y="1332.5" width="58.4" height="7.0" fill="#95c2dc"/>
<rect x="501.0" y="1339.2" width="58.4" height="6.0" fill="#afd3e6"/>
<rect x="501.0" y="1344.9" width="58.4" height="8.9" fill="#6e9dc9"/>
<rect x="501.0" y="1353.5" width="58.4" height="14.6" fill="#afd3e6"/>
<rect x="501.0" y="1367.7" width="58.4" height="15.5" fill="#d0e9f2"/>
<rect x="501.0" y="1383.0" width="58.4" height="7.0" fill="#fffbb9"/>
<rect x="501.0" y="1389.6" width="58.4" height="15.5" fill="#e0f3f7"/>
<rect x="501.0" y="1404.9" width="58.4" height="8.9" fill="#95c2dc"/>
<rect x="501.0" y="1413.4" width="58.4" height="15.5" fill="#f2fad7"/>
<rect x="501.0" y="1428.6" width="58.4" height="6.0" fill="#afd3e6"/>
<rect x="501.0" y="1434.4" width="58.4" height="7.9" fill="#e0f3f7"/>
<rect x="501.0" y="1442.0" width="58.4" height="7.9" fill="#f2fad7"/>
<rect x="501.0" y="1449.6" width="58.4" height="15.7" fill="#d0e9f2"/>
<rect x="559.1" y="1225.0" width="58.8" height="3.2" fill="#e0f3f7"/>
<rect x="559.1" y="1227.9" width="58.8" height="7.9" fill="#f2fad7"/>
<rect x="559.1" y="1235.5" width="58.8" height="7.0" fill="#95c2dc"/>
<rect x="559.1" y="1242.1" width="58.8" height="21.2" fill="#afd3e6"/>
<rect x="559.1" y="1263.1" width="58.8" height="8.9" fill="#d0e9f2"/>
<rect x="559.1" y="1271.6" width="58.8" height="8.9" fill="#95c2dc"/>
<rect x="559.1" y="1280.2" width="58.8" height="7.0" fill="#e0f3f7"/>
<rect x="559.1" y="1286.9" width="58.8" height="8.9" fill="#d0e9f2"/>
<rect x="559.1" y="1295.4" width="58.8" height="12.7" fill="#95c2dc"/>
<rect x="559.1" y="1307.8" width="58.8" height="8.9" fill="#afd3e6"/>
<rect x="559.1" y="1316.4" width="58.8" height="16.5" fill="#e0f3f7"/>
<rect x="559.1" y="1332.5" width="58.8" height="7.0" fill="#95c2dc"/>
<rect x="559.1" y="1339.2" width="58.8" height="6.0" fill="#afd3e6"/>
<rect x="559.1" y="1344.9" width="58.8" height="8.9" fill="#6e9dc9"/>
<rect x="559.1" y="1353.5" width="58.8" height="14.6" fill="#afd3e6"/>
<rect x="559.1" y="1367.7" width="58.8" height="15.5" fill="#e0f3f7"/>
<rect x="559.1" y="1383.0" width="58.8" height="7.0" fill="#fffbb9"/>
<rect x="559.1" y="1389.6" width="58.8" height="8.9" fill="#d0e9f2"/>
<rect x="559.1" y="1398.2" width="58.8" height="7.0" fill="#e0f3f7"/>
<rect x="559.1" y="1404.9" width="58.8" height="8.9" fill="#d0e9f2"/>
<rect x="559.1" y="1413.4" width="58.8" height="15.5" fill="#fffbb9"/>
<rect x="559.1" y="1428.6" width="58.8" height="7.9" fill="#d0e9f2"/>
<rect x="559.1" y="1436.3" width="58.8" height="7.0" fill="#e0f3f7"/>
<rect x="559.1" y="1442.9" width="58.8" height="7.0" fill="#f2fad7"/>
<rect x="559.1" y="1449.6" width="58.8" height="15.7" fill="#d0e9f2"/>
<rect x="617.6" y="1225.0" width="58.9" height="3.2" fill="#fffbb9"/>
<rect x="617.6" y="1227.9" width="58.9" height="7.9" fill="#f2fad7"/>
<rect x="617.6" y="1235.5" width="58.9" height="7.0" fill="#95c2dc"/>
<rect x="617.6" y="1242.1" width="58.9" height="8.9" fill="#afd3e6"/>
<rect x="617.6" y="1250.7" width="58.9" height="7.0" fill="#95c2dc"/>
<rect x="617.6" y="1257.4" width="58.9" height="14.6" fill="#f2fad7"/>
<rect x="617.6" y="1271.6" width="58.9" height="16.5" fill="#fffbb9"/>
<rect x="617.6" y="1287.8" width="58.9" height="7.9" fill="#feeca3"/>
<rect x="617.6" y="1295.4" width="58.9" height="7.0" fill="#f2fad7"/>
<rect x="617.6" y="1302.1" width="58.9" height="7.0" fill="#e0f3f7"/>
<rect x="617.6" y="1308.7" width="58.9" height="15.5" fill="#fffbb9"/>
<rect x="617.6" y="1324.0" width="58.9" height="8.9" fill="#feeca3"/>
<rect x="617.6" y="1332.5" width="58.9" height="7.0" fill="#fffbb9"/>
<rect x="617.6" y="1339.2" width="58.9" height="3.2" fill="#afd3e6"/>
<rect x="617.6" y="1342.0" width="58.9" height="11.7" fill="#6e9dc9"/>
<rect x="617.6" y="1353.5" width="58.9" height="7.9" fill="#f2fad7"/>
<rect x="617.6" y="1361.1" width="58.9" height="7.0" fill="#d0e9f2"/>
<rect x="617.6" y="1367.7" width="58.9" height="15.5" fill="#95c2dc"/>
<rect x="617.6" y="1383.0" width="58.9" height="7.0" fill="#afd3e6"/>
<rect x="617.6" y="1389.6" width="58.9" height="8.9" fill="#d0e9f2"/>
<rect x="617.6" y="1398.2" width="58.9" height="15.5" fill="#95c2dc"/>
<rect x="617.6" y="1413.4" width="58.9" height="7.0" fill="#6e9dc9"/>
<rect x="617.6" y="1420.1" width="58.9" height="8.9" fill="#afd3e6"/>
<rect x="617.6" y="1428.6" width="58.9" height="6.0" fill="#fffbb9"/>
<rect x="617.6" y="1434.4" width="58.9" height="8.9" fill="#e0f3f7"/>
<rect x="617.6" y="1442.9" width="58.9" height="7.0" fill="#fffbb9"/>
<rect x="617.6" y="1449.6" width="58.9" height="8.9" fill="#e0f3f7"/>
<rect x="617.6" y="1458.1" width="58.9" height="7.2" fill="#fffbb9"/>
<rect x="676.2" y="1225.0" width="58.8" height="3.2" fill="#e0f3f7"/>
<rect x="676.2" y="1227.9" width="58.8" height="7.9" fill="#f2fad7"/>
<rect x="676.2" y="1235.5" width="58.8" height="7.0" fill="#afd3e6"/>
<rect x="676.2" y="1242.1" width="58.8" height="8.9" fill="#95c2dc"/>
<rect x="676.2" y="1250.7" width="58.8" height="12.7" fill="#6e9dc9"/>
<rect x="676.2" y="1263.1" width="58.8" height="8.9" fill="#95c2dc"/>
<rect x="676.2" y="1271.6" width="58.8" height="24.1" fill="#6e9dc9"/>
<rect x="676.2" y="1295.4" width="58.8" height="12.7" fill="#6e9dc9"/>
<rect x="676.2" y="1307.8" width="58.8" height="8.9" fill="#95c2dc"/>
<rect x="676.2" y="1316.4" width="58.8" height="16.5" fill="#d0e9f2"/>
<rect x="676.2" y="1332.5" width="58.8" height="6.0" fill="#d73027"/>
<rect x="676.2" y="1338.2" width="58.8" height="3.2" fill="#fdc07b"/>
<rect x="676.2" y="1341.1" width="58.8" height="11.7" fill="#fffbb9"/>
<rect x="676.2" y="1352.5" width="58.8" height="8.9" fill="#feeca3"/>
<rect x="676.2" y="1361.1" width="58.8" height="7.0" fill="#fdc07b"/>
<rect x="676.2" y="1367.7" width="58.8" height="7.9" fill="#afd3e6"/>
<rect x="676.2" y="1375.4" width="58.8" height="7.9" fill="#f2fad7"/>
<rect x="676.2" y="1383.0" width="58.8" height="7.0" fill="#d0e9f2"/>
<rect x="676.2" y="1389.6" width="58.8" height="8.9" fill="#afd3e6"/>
<rect x="676.2" y="1398.2" width="58.8" height="7.0" fill="#f2fad7"/>
<rect x="676.2" y="1404.9" width="58.8" height="8.9" fill="#e0f3f7"/>
<rect x="676.2" y="1413.4" width="58.8" height="7.0" fill="#f2fad7"/>
<rect x="676.2" y="1420.1" width="58.8" height="8.9" fill="#fedc8d"/>
<rect x="676.2" y="1428.6" width="58.8" height="6.0" fill="#afd3e6"/>
<rect x="676.2" y="1434.4" width="58.8" height="7.9" fill="#95c2dc"/>
<rect x="676.2" y="1442.0" width="58.8" height="7.9" fill="#afd3e6"/>
<rect x="676.2" y="1449.6" width="58.8" height="8.9" fill="#e0f3f7"/>
<rect x="676.2" y="1458.1" width="58.8" height="7.2" fill="#fffbb9"/>
<rect x="734.7" y="1225.0" width="59.1" height="2.2" fill="#fdc07b"/>
<rect x="734.7" y="1226.9" width="59.1" height="8.9" fill="#f98656"/>
<rect x="734.7" y="1235.5" width="59.1" height="7.0" fill="#f2fad7"/>
<rect x="734.7" y="1242.1" width="59.1" height="8.9" fill="#fedc8d"/>
<rect x="734.7" y="1250.7" width="59.1" height="7.0" fill="#feeca3"/>
<rect x="734.7" y="1257.4" width="59.1" height="14.6" fill="#fffbb9"/>
<rect x="734.7" y="1271.6" width="59.1" height="7.9" fill="#f2fad7"/>
<rect x="734.7" y="1279.2" width="59.1" height="7.9" fill="#feeca3"/>
<rect x="734.7" y="1286.9" width="59.1" height="8.9" fill="#f2fad7"/>
<rect x="734.7" y="1295.4" width="59.1" height="6.0" fill="#e0f3f7"/>
<rect x="734.7" y="1301.1" width="59.1" height="7.9" fill="#afd3e6"/>
<rect x="734.7" y="1308.7" width="59.1" height="7.9" fill="#e0f3f7"/>
<rect x="734.7" y="1316.4" width="59.1" height="15.5" fill="#fffbb9"/>
<rect x="734.7" y="1331.6" width="59.1" height="7.0" fill="#afd3e6"/>
<rect x="734.7" y="1338.2" width="59.1" height="7.0" fill="#e0f3f7"/>
<rect x="734.7" y="1344.9" width="59.1" height="8.9" fill="#fffbb9"/>
<rect x="734.7" y="1353.5" width="59.1" height="7.0" fill="#e0f3f7"/>
<rect x="734.7" y="1360.1" width="59.1" height="7.9" fill="#fffbb9"/>
<rect x="734.7" y="1367.7" width="59.1" height="15.5" fill="#feeca3"/>
<rect x="734.7" y="1383.0" width="59.1" height="7.0" fill="#fffbb9"/>
<rect x="734.7" y="1389.6" width="59.1" height="8.9" fill="#f2fad7"/>
<rect x="734.7" y="1398.2" width="59.1" height="7.0" fill="#feeca3"/>
<rect x="734.7" y="1404.9" width="59.1" height="8.9" fill="#fecd83"/>
<rect x="734.7" y="1413.4" width="59.1" height="15.5" fill="#fedc8d"/>
<rect x="734.7" y="1428.6" width="59.1" height="14.6" fill="#fffbb9"/>
<rect x="734.7" y="1442.9" width="59.1" height="7.0" fill="#feeca3"/>
<rect x="734.7" y="1449.6" width="59.1" height="8.9" fill="#f2fad7"/>
<rect x="734.7" y="1458.1" width="59.1" height="7.2" fill="#fffbb9"/>
<rect x="793.5" y="1225.0" width="59.1" height="4.1" fill="#f98656"/>
<rect x="793.5" y="1228.8" width="59.1" height="7.0" fill="#e95d3f"/>
<rect x="793.5" y="1235.5" width="59.1" height="15.5" fill="#e95d3f"/>
<rect x="793.5" y="1250.7" width="59.1" height="7.0" fill="#fc9e64"/>
<rect x="793.5" y="1257.4" width="59.1" height="6.0" fill="#feeca3"/>
<rect x="793.5" y="1263.1" width="59.1" height="8.9" fill="#fedc8d"/>
<rect x="793.5" y="1271.6" width="59.1" height="7.9" fill="#feeca3"/>
<rect x="793.5" y="1279.2" width="59.1" height="7.9" fill="#fdc07b"/>
<rect x="793.5" y="1286.9" width="59.1" height="8.9" fill="#f2fad7"/>
<rect x="793.5" y="1295.4" width="59.1" height="4.1" fill="#e0f3f7"/>
<rect x="793.5" y="1299.2" width="59.1" height="40.3" fill="#f2fad7"/>
<rect x="793.5" y="1339.2" width="59.1" height="6.0" fill="#fffbb9"/>
<rect x="793.5" y="1344.9" width="59.1" height="23.1" fill="#e0f3f7"/>
<rect x="793.5" y="1367.7" width="59.1" height="22.2" fill="#fffbb9"/>
<rect x="793.5" y="1389.6" width="59.1" height="15.5" fill="#feeca3"/>
<rect x="793.5" y="1404.9" width="59.1" height="14.6" fill="#fecd83"/>
<rect x="793.5" y="1419.1" width="59.1" height="9.8" fill="#fedc8d"/>
<rect x="793.5" y="1428.6" width="59.1" height="21.2" fill="#fffbb9"/>
<rect x="793.5" y="1449.6" width="59.1" height="8.9" fill="#d0e9f2"/>
<rect x="793.5" y="1458.1" width="59.1" height="7.2" fill="#feeca3"/>
<rect x="852.3" y="1225.0" width="60.0" height="2.2" fill="#afd3e6"/>
<rect x="852.3" y="1226.9" width="60.0" height="8.9" fill="#fffbb9"/>
<rect x="852.3" y="1235.5" width="60.0" height="12.7" fill="#f2fad7"/>
<rect x="852.3" y="1247.8" width="60.0" height="8.9" fill="#95c2dc"/>
<rect x="852.3" y="1256.4" width="60.0" height="7.0" fill="#fecd83"/>
<rect x="852.3" y="1263.1" width="60.0" height="8.9" fill="#fffbb9"/>
<rect x="852.3" y="1271.6" width="60.0" height="7.9" fill="#feeca3"/>
<rect x="852.3" y="1279.2" width="60.0" height="7.9" fill="#f2fad7"/>
<rect x="852.3" y="1286.9" width="60.0" height="8.9" fill="#fffbb9"/>
<rect x="852.3" y="1295.4" width="60.0" height="4.1" fill="#e0f3f7"/>
<rect x="852.3" y="1299.2" width="60.0" height="9.8" fill="#fffbb9"/>
<rect x="852.3" y="1308.7" width="60.0" height="14.6" fill="#f2fad7"/>
<rect x="852.3" y="1323.0" width="60.0" height="9.8" fill="#d0e9f2"/>
<rect x="852.3" y="1332.5" width="60.0" height="6.0" fill="#feeca3"/>
<rect x="852.3" y="1338.2" width="60.0" height="7.0" fill="#4e7eb9"/>
<rect x="852.3" y="1344.9" width="60.0" height="8.9" fill="#f2fad7"/>
<rect x="852.3" y="1353.5" width="60.0" height="14.6" fill="#e0f3f7"/>
<rect x="852.3" y="1367.7" width="60.0" height="7.9" fill="#fffbb9"/>
<rect x="852.3" y="1375.4" width="60.0" height="8.9" fill="#fecd83"/>
<rect x="852.3" y="1383.9" width="60.0" height="6.0" fill="#fffbb9"/>
<rect x="852.3" y="1389.6" width="60.0" height="8.9" fill="#fedc8d"/>
<rect x="852.3" y="1398.2" width="60.0" height="7.0" fill="#e0f3f7"/>
<rect x="852.3" y="1404.9" width="60.0" height="8.9" fill="#fffbb9"/>
<rect x="852.3" y="1413.4" width="60.0" height="15.5" fill="#feeca3"/>
<rect x="852.3" y="1428.6" width="60.0" height="6.0" fill="#f98656"/>
<rect x="852.3" y="1434.4" width="60.0" height="7.9" fill="#fedc8d"/>
<rect x="852.3" y="1442.0" width="60.0" height="7.9" fill="#fdc07b"/>
<rect x="852.3" y="1449.6" width="60.0" height="15.7" fill="#fffbb9"/>
<rect x="912.0" y="1225.0" width="60.9" height="10.8" fill="#fffbb9"/>
<rect x="912.0" y="1235.5" width="60.9" height="7.0" fill="#fedc8d"/>
<rect x="912.0" y="1242.1" width="60.9" height="6.0" fill="#fc9e64"/>
<rect x="912.0" y="1247.8" width="60.9" height="8.9" fill="#fedc8d"/>
<rect x="912.0" y="1256.4" width="60.9" height="7.0" fill="#fdc07b"/>
<rect x="912.0" y="1263.1" width="60.9" height="8.9" fill="#feeca3"/>
<rect x="912.0" y="1271.6" width="60.9" height="37.4" fill="#feeca3"/>
<rect x="912.0" y="1308.7" width="60.9" height="8.9" fill="#fc9e64"/>
<rect x="912.0" y="1317.3" width="60.9" height="15.5" fill="#fedc8d"/>
<rect x="912.0" y="1332.5" width="60.9" height="6.0" fill="#feeca3"/>
<rect x="912.0" y="1338.2" width="60.9" height="7.0" fill="#afd3e6"/>
<rect x="912.0" y="1344.9" width="60.9" height="23.1" fill="#fffbb9"/>
<rect x="912.0" y="1367.7" width="60.9" height="7.9" fill="#feeca3"/>
<rect x="912.0" y="1375.4" width="60.9" height="14.6" fill="#fffbb9"/>
<rect x="912.0" y="1389.6" width="60.9" height="15.5" fill="#95c2dc"/>
<rect x="912.0" y="1404.9" width="60.9" height="8.9" fill="#6e9dc9"/>
<rect x="912.0" y="1413.4" width="60.9" height="7.0" fill="#afd3e6"/>
<rect x="912.0" y="1420.1" width="60.9" height="13.6" fill="#f2fad7"/>
<rect x="912.0" y="1433.4" width="60.9" height="16.5" fill="#d0e9f2"/>
<rect x="912.0" y="1449.6" width="60.9" height="8.9" fill="#95c2dc"/>
<rect x="912.0" y="1458.1" width="60.9" height="7.2" fill="#f2fad7"/>
<rect x="265.2" y="1464.9" width="58.4" height="8.7" fill="#fedc8d"/>
<rect x="265.2" y="1473.3" width="58.4" height="6.0" fill="#f2fad7"/>
<rect x="265.2" y="1479.0" width="58.4" height="7.0" fill="#e0f3f7"/>
<rect x="265.2" y="1485.7" width="58.4" height="17.1" fill="#fedc8d"/>
<rect x="323.3" y="1464.9" width="60.4" height="14.4" fill="#f2fad7"/>
<rect x="323.3" y="1479.0" width="60.4" height="7.0" fill="#fffbb9"/>
<rect x="323.3" y="1485.7" width="60.4" height="9.8" fill="#f2fad7"/>
<rect x="323.3" y="1495.2" width="60.4" height="7.6" fill="#afd3e6"/>
<rect x="383.4" y="1440.0" width="57.5" height="25.2" fill="#95c2dc"/>
<rect x="383.4" y="1464.9" width="57.5" height="8.7" fill="#d0e9f2"/>
<rect x="383.4" y="1473.3" width="57.5" height="12.7" fill="#6e9dc9"/>
<rect x="383.4" y="1485.7" width="57.5" height="9.8" fill="#95c2dc"/>
<rect x="383.4" y="1495.2" width="57.5" height="7.6" fill="#fffbb9"/>
<rect x="440.6" y="1464.9" width="60.7" height="8.7" fill="#fffbb9"/>
<rect x="440.6" y="1473.3" width="60.7" height="12.7" fill="#d0e9f2"/>
<rect x="440.6" y="1485.7" width="60.7" height="17.1" fill="#e0f3f7"/>
<rect x="501.0" y="1464.9" width="58.4" height="8.7" fill="#e0f3f7"/>
<rect x="501.0" y="1473.3" width="58.4" height="12.7" fill="#95c2dc"/>
<rect x="501.0" y="1485.7" width="58.4" height="9.8" fill="#afd3e6"/>
<rect x="501.0" y="1495.2" width="58.4" height="7.6" fill="#afd3e6"/>
<rect x="559.1" y="1464.9" width="58.8" height="8.7" fill="#e0f3f7"/>
<rect x="559.1" y="1473.3" width="58.8" height="12.7" fill="#95c2dc"/>
<rect x="559.1" y="1485.7" width="58.8" height="9.8" fill="#afd3e6"/>
<rect x="559.1" y="1495.2" width="58.8" height="7.6" fill="#95c2dc"/>
<rect x="617.6" y="1464.9" width="58.9" height="8.7" fill="#f2fad7"/>
<rect x="617.6" y="1473.3" width="58.9" height="6.0" fill="#e0f3f7"/>
<rect x="617.6" y="1479.0" width="58.9" height="7.0" fill="#f2fad7"/>
<rect x="617.6" y="1485.7" width="58.9" height="9.8" fill="#95c2dc"/>
<rect x="617.6" y="1495.2" width="58.9" height="7.6" fill="#95c2dc"/>
<rect x="676.2" y="1464.9" width="58.8" height="8.7" fill="#fffbb9"/>
<rect x="676.2" y="1473.3" width="58.8" height="12.7" fill="#f2fad7"/>
<rect x="676.2" y="1485.7" width="58.8" height="9.8" fill="#afd3e6"/>
<rect x="676.2" y="1495.2" width="58.8" height="7.6" fill="#d0e9f2"/>
<rect x="734.7" y="1464.9" width="59.1" height="8.7" fill="#fffbb9"/>
<rect x="734.7" y="1473.3" width="59.1" height="22.2" fill="#f2fad7"/>
<rect x="734.7" y="1495.2" width="59.1" height="7.6" fill="#e0f3f7"/>
<rect x="793.5" y="1464.9" width="59.1" height="8.7" fill="#e0f3f7"/>
<rect x="793.5" y="1473.3" width="59.1" height="7.0" fill="#4e7eb9"/>
<rect x="793.5" y="1480.0" width="59.1" height="22.8" fill="#afd3e6"/>
<rect x="852.3" y="1464.9" width="60.0" height="8.7" fill="#fffbb9"/>
<rect x="852.3" y="1473.3" width="60.0" height="7.0" fill="#fdc07b"/>
<rect x="852.3" y="1480.0" width="60.0" height="22.8" fill="#fc9e64"/>
<rect x="912.0" y="1464.9" width="60.9" height="14.4" fill="#e0f3f7"/>
<rect x="912.0" y="1479.0" width="60.9" height="7.0" fill="#fffbb9"/>
<rect x="912.0" y="1485.7" width="60.9" height="9.8" fill="#4e7eb9"/>
<rect x="912.0" y="1495.2" width="60.9" height="7.6" fill="#e0f3f7"/>
</g></g>
<g fill="none" stroke="#333333" stroke-width="3" stroke-linecap="square" filter="url(#bl)">
<path d="M294.3,265V159H353.4V265 M323.9,159V92 M323.9,92H570 M570,92V125 M446.9,92V21.5H853.7V89.5 M795.5,89.5H913.5 M795.5,89.5V189 M766,265V189H825V265 M913.5,89.5V150 M884,265V150H943V265 M463.3,125H677.5 M463.3,125V156.6 M412.3,265V156.6H515.3V197.6 M471.2,265V197.6H559.5V230 M530,265V230H589V265 M677.5,125V126.6 M648,265V126.6H707V265"/>
</g>
<rect x="1033.3" y="274" width="47.7" height="696.5" fill="url(#cb)"/>
<rect x="1087.5" y="247.5" width="125" height="757.5" fill="none" stroke="#e6e8ee" stroke-width="2"/>
<rect x="1085.5" y="245.5" width="129" height="761.5" fill="none" stroke="#8a92a4" stroke-width="2.6"/>
<g fill="#2a1f1a" font-size="56" stroke="#ffffff" stroke-width="1.5">
<text transform="translate(1097.3,303.5) scale(0.94,1)" x="0" y="0" xml:space="preserve">1</text>
<text transform="translate(1097.3,441.0) scale(0.94,1)" x="0" y="0" xml:space="preserve">0. 8</text>
<text transform="translate(1097.3,578.5) scale(0.94,1)" x="0" y="0" xml:space="preserve">0. 6</text>
<text transform="translate(1097.3,716.0) scale(0.94,1)" x="0" y="0" xml:space="preserve">0. 4</text>
<text transform="translate(1097.3,853.5) scale(0.94,1)" x="0" y="0" xml:space="preserve">0. 2</text>
<text transform="translate(1097.3,991.0) scale(0.94,1)" x="0" y="0" xml:space="preserve">0</text>
</g>
<rect x="263.6" y="1505.6" width="722.2" height="143.2" fill="none" stroke="#d2d5dd" stroke-width="2.4"/>
<rect x="266" y="1508" width="717.3" height="138.6" fill="none" stroke="#979eaf" stroke-width="2.6"/>
<g fill="#262626" font-size="59" text-anchor="middle" stroke="#ffffff" stroke-width="0.5">
<text transform="translate(285.4,1534.8) rotate(90) scale(0.787,1)">F</text>
<text transform="translate(285.4,1561.7) rotate(90) scale(0.606,1)">V</text>
<text transform="translate(285.4,1588.5) rotate(90) scale(0.606,1)">D</text>
<text transform="translate(348.9,1534.8) rotate(90) scale(0.787,1)">P</text>
<text transform="translate(348.9,1561.7) rotate(90) scale(0.716,1)">T</text>
<text transform="translate(412.5,1534.8) rotate(90) scale(0.787,1)">S</text>
<text transform="translate(412.5,1561.7) rotate(90) scale(0.606,1)">G</text>
<text transform="translate(412.5,1588.5) rotate(90) scale(0.606,1)">N</text>
<text transform="translate(476.0,1534.8) rotate(90) scale(0.787,1)">F</text>
<text transform="translate(476.0,1561.7) rotate(90) scale(0.606,1)">H</text>
<text transform="translate(476.0,1588.5) rotate(90) scale(0.606,1)">D</text>
<text transform="translate(539.6,1534.8) rotate(90) scale(0.787,1)">F</text>
<text transform="translate(539.6,1561.7) rotate(90) scale(0.787,1)">F</text>
<text transform="translate(539.6,1588.5) rotate(90) scale(0.464,1)">W</text>
<text transform="translate(603.1,1534.8) rotate(90) scale(0.787,1)">F</text>
<text transform="translate(603.1,1561.7) rotate(90) scale(0.787,1)">S</text>
<text transform="translate(603.1,1588.5) rotate(90) scale(0.464,1)">W</text>
<text transform="translate(666.6,1534.8) rotate(90) scale(0.606,1)">H</text>
<text transform="translate(666.6,1561.7) rotate(90) scale(0.606,1)">G</text>
<text transform="translate(666.6,1588.5) rotate(90) scale(0.464,1)">W</text>
<text transform="translate(730.2,1534.8) rotate(90) scale(0.787,1)">F</text>
<text transform="translate(730.2,1561.7) rotate(90) scale(0.787,1)">S</text>
<text transform="translate(730.2,1588.5) rotate(90) scale(0.656,1)">R</text>
<text transform="translate(793.7,1534.8) rotate(90) scale(0.606,1)">D</text>
<text transform="translate(793.7,1561.7) rotate(90) scale(0.787,1)">S</text>
<text transform="translate(793.7,1588.5) rotate(90) scale(0.656,1)">R</text>
<text transform="translate(857.3,1534.8) rotate(90) scale(0.606,1)">D</text>
<text transform="translate(857.3,1561.7) rotate(90) scale(0.606,1)">K</text>
<text transform="translate(857.3,1588.5) rotate(90) scale(0.656,1)">R</text>
<text transform="translate(920.8,1534.8) rotate(90) scale(0.606,1)">D</text>
<text transform="translate(920.8,1561.7) rotate(90) scale(0.606,1)">K</text>
<text transform="translate(920.8,1588.5) rotate(90) scale(0.606,1)">O</text>
<text transform="translate(920.8,1615.5) rotate(90) scale(0.656,1)">C</text>
</g>
</svg>
</body></html>
